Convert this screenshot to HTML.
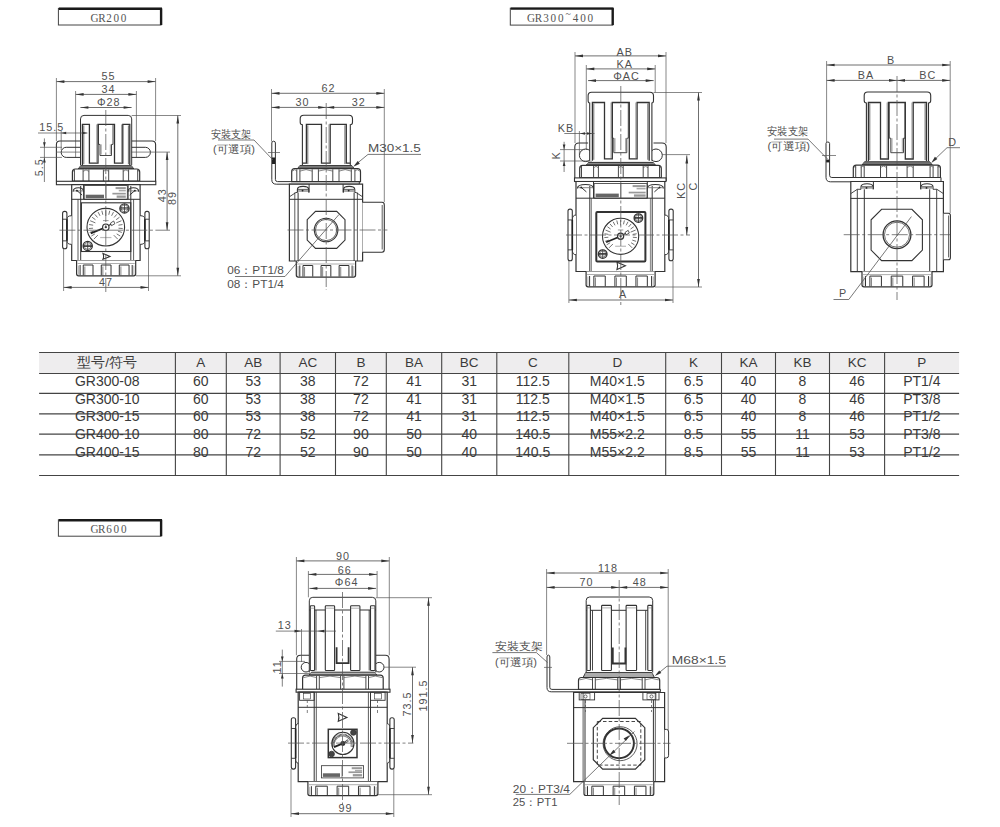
<!DOCTYPE html>
<html><head><meta charset="utf-8"><title>GR regulator drawing</title>
<style>html,body{margin:0;padding:0;background:#fff;overflow:hidden;}svg{display:block;}</style></head>
<body><svg width="1000" height="827" viewBox="0 0 1000 827">
<rect width="1000" height="827" fill="#fff"/>
<rect x="58.4" y="8.4" width="102.6" height="16.6" fill="#fff" stroke="#444" stroke-width="1.0"/>
<line x1="58.9" y1="8.8" x2="162" y2="8.8" stroke="#1a1a1a" stroke-width="2.4"/>
<line x1="161.1" y1="8.4" x2="161.1" y2="25" stroke="#1a1a1a" stroke-width="2.4"/>
<text x="0" y="0" font-size="13" text-anchor="middle" font-family='"Liberation Serif", serif' fill="#555" transform="translate(94.62 21.6) scale(0.86 1)">G</text>
<text x="0" y="0" font-size="13" text-anchor="middle" font-family='"Liberation Serif", serif' fill="#555" transform="translate(101.86 21.6) scale(0.86 1)">R</text>
<text x="0" y="0" font-size="13" text-anchor="middle" font-family='"Liberation Serif", serif' fill="#555" transform="translate(109.1 21.6) scale(0.86 1)">2</text>
<text x="0" y="0" font-size="13" text-anchor="middle" font-family='"Liberation Serif", serif' fill="#555" transform="translate(116.34 21.6) scale(0.86 1)">0</text>
<text x="0" y="0" font-size="13" text-anchor="middle" font-family='"Liberation Serif", serif' fill="#555" transform="translate(123.58 21.6) scale(0.86 1)">0</text>
<rect x="510.3" y="8.2" width="102.3" height="16.9" fill="#fff" stroke="#444" stroke-width="1.0"/>
<line x1="510.8" y1="8.6" x2="613.6" y2="8.6" stroke="#1a1a1a" stroke-width="2.4"/>
<line x1="612.7" y1="8.2" x2="612.7" y2="25.1" stroke="#1a1a1a" stroke-width="2.4"/>
<text x="0" y="0" font-size="13" text-anchor="middle" font-family='"Liberation Serif", serif' fill="#555" transform="translate(531.11 21.7) scale(0.86 1)">G</text>
<text x="0" y="0" font-size="13" text-anchor="middle" font-family='"Liberation Serif", serif' fill="#555" transform="translate(538.52 21.7) scale(0.86 1)">R</text>
<text x="0" y="0" font-size="13" text-anchor="middle" font-family='"Liberation Serif", serif' fill="#555" transform="translate(545.93 21.7) scale(0.86 1)">3</text>
<text x="0" y="0" font-size="13" text-anchor="middle" font-family='"Liberation Serif", serif' fill="#555" transform="translate(553.34 21.7) scale(0.86 1)">0</text>
<text x="0" y="0" font-size="13" text-anchor="middle" font-family='"Liberation Serif", serif' fill="#555" transform="translate(560.75 21.7) scale(0.86 1)">0</text>
<text x="0" y="0" font-size="11" text-anchor="middle" font-family='"Liberation Serif", serif' fill="#555" transform="translate(568.16 16.6) scale(0.9 1)">~</text>
<text x="0" y="0" font-size="13" text-anchor="middle" font-family='"Liberation Serif", serif' fill="#555" transform="translate(575.57 21.7) scale(0.86 1)">4</text>
<text x="0" y="0" font-size="13" text-anchor="middle" font-family='"Liberation Serif", serif' fill="#555" transform="translate(582.98 21.7) scale(0.86 1)">0</text>
<text x="0" y="0" font-size="13" text-anchor="middle" font-family='"Liberation Serif", serif' fill="#555" transform="translate(590.39 21.7) scale(0.86 1)">0</text>
<rect x="58.4" y="519.8" width="102.6" height="16.4" fill="#fff" stroke="#444" stroke-width="1.0"/>
<line x1="58.9" y1="520.2" x2="162" y2="520.2" stroke="#1a1a1a" stroke-width="2.4"/>
<line x1="161.1" y1="519.8" x2="161.1" y2="536.2" stroke="#1a1a1a" stroke-width="2.4"/>
<text x="0" y="0" font-size="13" text-anchor="middle" font-family='"Liberation Serif", serif' fill="#555" transform="translate(94.46 532.8) scale(0.86 1)">G</text>
<text x="0" y="0" font-size="13" text-anchor="middle" font-family='"Liberation Serif", serif' fill="#555" transform="translate(101.78 532.8) scale(0.86 1)">R</text>
<text x="0" y="0" font-size="13" text-anchor="middle" font-family='"Liberation Serif", serif' fill="#555" transform="translate(109.1 532.8) scale(0.86 1)">6</text>
<text x="0" y="0" font-size="13" text-anchor="middle" font-family='"Liberation Serif", serif' fill="#555" transform="translate(116.42 532.8) scale(0.86 1)">0</text>
<text x="0" y="0" font-size="13" text-anchor="middle" font-family='"Liberation Serif", serif' fill="#555" transform="translate(123.74 532.8) scale(0.86 1)">0</text>
<line x1="56.4" y1="81.6" x2="155.6" y2="81.6" stroke="#4a4a4a" stroke-width="0.8"/>
<polygon points="56.4,81.6 64.4,80.25 64.4,82.95" fill="#333"/>
<polygon points="155.6,81.6 147.6,80.25 147.6,82.95" fill="#333"/>
<text x="108.4" y="80.3" font-size="10.8" text-anchor="middle" font-family='"Liberation Sans", sans-serif' fill="#505050" letter-spacing="1">55</text>
<line x1="75.6" y1="94.4" x2="136.4" y2="94.4" stroke="#4a4a4a" stroke-width="0.8"/>
<polygon points="75.6,94.4 83.6,93.05 83.6,95.75" fill="#333"/>
<polygon points="136.4,94.4 128.4,93.05 128.4,95.75" fill="#333"/>
<text x="108.4" y="93" font-size="10.8" text-anchor="middle" font-family='"Liberation Sans", sans-serif' fill="#505050" letter-spacing="1">34</text>
<line x1="80.4" y1="107.5" x2="131.6" y2="107.5" stroke="#4a4a4a" stroke-width="0.8"/>
<polygon points="80.4,107.5 88.4,106.15 88.4,108.85" fill="#333"/>
<polygon points="131.6,107.5 123.6,106.15 123.6,108.85" fill="#333"/>
<text x="108.8" y="106" font-size="10.8" text-anchor="middle" font-family='"Liberation Sans", sans-serif' fill="#505050" letter-spacing="1">Φ28</text>
<line x1="56.4" y1="78" x2="56.4" y2="141" stroke="#555" stroke-width="0.7"/>
<line x1="155.6" y1="78" x2="155.6" y2="141" stroke="#555" stroke-width="0.7"/>
<line x1="75.6" y1="91" x2="75.6" y2="157.5" stroke="#555" stroke-width="0.7"/>
<line x1="136.4" y1="91" x2="136.4" y2="157.5" stroke="#555" stroke-width="0.7"/>
<path d="M56.4,181.3 L56.4,144.5 Q56.4,141 60,141 L152,141 Q155.6,141 155.6,144.5 L155.6,181.3" fill="none" stroke="#333" stroke-width="1.1"/>
<rect x="61.2" y="147.3" width="26.2" height="10.1" rx="5" fill="none" stroke="#333" stroke-width="1.0"/>
<rect x="124.2" y="147.3" width="26.2" height="10.1" rx="5" fill="none" stroke="#333" stroke-width="1.0"/>
<line x1="56" y1="152.1" x2="80" y2="152.1" stroke="#555" stroke-width="0.7"/>
<line x1="131" y1="152.1" x2="170" y2="152.1" stroke="#555" stroke-width="0.7"/>
<path d="M80.5,165.2 L80.5,118.9 Q80.5,115.4 84,115.4 L128.2,115.4 Q131.7,115.4 131.7,118.9 L131.7,165.2" fill="#fff" stroke="#333" stroke-width="1.0"/>
<path d="M82.4,165.2 L82.4,124.4 L89.4,124.4 L89.4,163.2 L98,163.2 L98,124.4 L114.5,124.4 L114.5,163.2 L122.8,163.2 L122.8,124.4 L129.8,124.4 L129.8,165.2" fill="none" stroke="#333" stroke-width="1.3"/>
<line x1="83.8" y1="125.4" x2="83.8" y2="164.2" stroke="#333" stroke-width="0.7"/>
<line x1="128.4" y1="125.4" x2="128.4" y2="164.2" stroke="#333" stroke-width="0.7"/>
<line x1="96.7" y1="124.4" x2="96.7" y2="162.7" stroke="#666" stroke-width="0.6"/>
<line x1="121.5" y1="124.4" x2="121.5" y2="162.7" stroke="#666" stroke-width="0.6"/>
<path d="M98.5,124.4 L98.5,144.4 L100,144.4 L100,155.5 L111.5,155.5 L111.5,144.4 L113,144.4 L113,124.4" fill="none" stroke="#333" stroke-width="0.9"/>
<line x1="101.2" y1="144.4" x2="101.2" y2="154.5" stroke="#666" stroke-width="0.6"/>
<line x1="110.3" y1="144.4" x2="110.3" y2="154.5" stroke="#666" stroke-width="0.6"/>
<line x1="131.7" y1="115.5" x2="181" y2="115.5" stroke="#555" stroke-width="0.7"/>
<path d="M80.7,165.7 L131.4,165.7 L133.9,169 L78.2,169 Z" fill="#555" stroke="#333" stroke-width="1.0"/>
<line x1="79.2" y1="166.9" x2="132.9" y2="166.9" stroke="#bbb" stroke-width="0.6"/>
<path d="M72.4,181.1 L72.4,172 Q72.4,169 75.4,169 L136.7,169 Q139.7,169 139.7,172 L139.7,181.1 Z" fill="#fff" stroke="#333" stroke-width="1.2"/>
<line x1="74.4" y1="169.6" x2="74.4" y2="181.1" stroke="#333" stroke-width="0.9"/>
<line x1="83.1" y1="169.6" x2="83.1" y2="181.1" stroke="#333" stroke-width="0.9"/>
<line x1="88.9" y1="169.6" x2="88.9" y2="181.1" stroke="#333" stroke-width="0.9"/>
<line x1="103.4" y1="169.6" x2="103.4" y2="181.1" stroke="#333" stroke-width="0.9"/>
<line x1="108.7" y1="169.6" x2="108.7" y2="181.1" stroke="#333" stroke-width="0.9"/>
<line x1="123.2" y1="169.6" x2="123.2" y2="181.1" stroke="#333" stroke-width="0.9"/>
<line x1="128.6" y1="169.6" x2="128.6" y2="181.1" stroke="#333" stroke-width="0.9"/>
<line x1="137.7" y1="169.6" x2="137.7" y2="181.1" stroke="#333" stroke-width="0.9"/>
<path d="M73.4,171.4 Q73.9,168.4 74.4,171.4 M83.1,171.4 Q86,168.4 88.9,171.4 M103.4,171.4 Q106.05,168.4 108.7,171.4 M123.2,171.4 Q125.9,168.4 128.6,171.4 M137.7,171.4 Q138.2,168.4 138.7,171.4 " fill="none" stroke="#555" stroke-width="0.7"/>
<rect x="56.4" y="181.3" width="99.4" height="3.4" fill="#fff" stroke="#333" stroke-width="1.1"/>
<path d="M71.7,260.5 L71.7,184.7 L140.1,184.7 L140.1,260.5 Z" fill="#fff" stroke="#333" stroke-width="1.2"/>
<line x1="71.7" y1="199.3" x2="140.1" y2="199.3" stroke="#333" stroke-width="1.0"/>
<line x1="78" y1="199.3" x2="78" y2="260.5" stroke="#333" stroke-width="0.8"/>
<line x1="80.7" y1="186" x2="80.7" y2="260.5" stroke="#333" stroke-width="1.0"/>
<line x1="133.6" y1="199.3" x2="133.6" y2="260.5" stroke="#333" stroke-width="0.8"/>
<line x1="130.8" y1="186" x2="130.8" y2="260.5" stroke="#333" stroke-width="1.0"/>
<rect x="84.2" y="185.6" width="43.1" height="13.7" fill="none" stroke="#333" stroke-width="0.8"/>
<line x1="106" y1="185.6" x2="106" y2="199.3" stroke="#333" stroke-width="0.6"/>
<rect x="85.7" y="194.7" width="18.3" height="3.6" fill="#666"/>
<rect x="115.58" y="187.1" width="10.22" height="2" fill="#999"/>
<rect x="118.78" y="189.8" width="7.02" height="1.6" fill="#aaa"/>
<rect x="112.39" y="192.8" width="13.41" height="1.7" fill="#999"/>
<rect x="116.65" y="195.5" width="9.15" height="2.3" fill="#999"/>
<line x1="83.6" y1="184.7" x2="83.6" y2="199.3" stroke="#333" stroke-width="1.0"/>
<path d="M73.1,191.7 Q73.1,187.7 78.35,187.7 Q83.6,187.7 83.6,191.7" fill="none" stroke="#333" stroke-width="1.1"/>
<line x1="73.6" y1="190.9" x2="83.1" y2="190.9" stroke="#777" stroke-width="0.9"/>
<line x1="76.9" y1="190.5" x2="82.1" y2="195.1" stroke="#333" stroke-width="1.0"/>
<circle cx="76.9" cy="190.7" r="0.9" fill="#222"/>
<line x1="128.1" y1="184.7" x2="128.1" y2="199.3" stroke="#333" stroke-width="1.0"/>
<path d="M128.1,191.7 Q128.1,187.7 133.4,187.7 Q138.7,187.7 138.7,191.7" fill="none" stroke="#333" stroke-width="1.1"/>
<line x1="128.6" y1="190.9" x2="138.2" y2="190.9" stroke="#777" stroke-width="0.9"/>
<line x1="134.9" y1="190.5" x2="129.7" y2="195.1" stroke="#333" stroke-width="1.0"/>
<circle cx="134.9" cy="190.7" r="0.9" fill="#222"/>
<rect x="81.4" y="202.8" width="49.4" height="48.7" fill="none" stroke="#333" stroke-width="1.1"/>
<circle cx="105.8" cy="227.2" r="18.8" fill="#fff" stroke="#333" stroke-width="1.1"/>
<path d="M97.82,235.18 L93.84,239.16 M94.9,233.88 L91.37,236.04 M93.64,231.15 L89.71,232.43 M93.06,228.2 L88.93,228.53 M93.17,225.2 L89.09,224.55 M95.38,222.88 L90.17,220.72 M95.46,219.69 L92.11,217.25 M97.5,217.48 L94.81,214.33 M100,215.81 L98.12,212.12 M102.82,214.77 L101.85,210.75 M105.8,215.92 L105.8,210.28 M108.78,214.77 L109.75,210.75 M111.6,215.81 L113.48,212.12 M114.1,217.48 L116.79,214.33 M116.14,219.69 L119.49,217.25 M116.22,222.88 L121.43,220.72 M118.43,225.2 L122.51,224.55 M118.54,228.2 L122.67,228.53 M117.96,231.15 L121.89,232.43 M116.7,233.88 L120.23,236.04 M113.78,235.18 L117.76,239.16 " fill="none" stroke="#444" stroke-width="0.75"/>
<line x1="100.16" y1="237.54" x2="111.44" y2="237.54" stroke="#bbb" stroke-width="1.2"/>
<line x1="102.98" y1="220.62" x2="108.62" y2="220.62" stroke="#999" stroke-width="1.0"/>
<line x1="90.76" y1="233.4" x2="105.8" y2="227.2" stroke="#222" stroke-width="1.7"/>
<line x1="105.8" y1="227.2" x2="112.94" y2="223.06" stroke="#333" stroke-width="1.1"/>
<path d="M110.5,223.06 L113.7,221 L114.82,223.82 L111.44,225.7 Z" fill="#fff" stroke="#333" stroke-width="0.8"/>
<circle cx="105.8" cy="227.2" r="3.2" fill="#fff" stroke="#333" stroke-width="1.2"/>
<circle cx="105.8" cy="227.2" r="1.13" fill="#333"/>
<circle cx="124.5" cy="208.4" r="4.6" fill="#fff" stroke="#333" stroke-width="1.3"/>
<circle cx="124.5" cy="208.4" r="3.4" fill="none" stroke="#333" stroke-width="0.6"/>
<line x1="119.9" y1="207.8" x2="129.1" y2="207.8" stroke="#333" stroke-width="0.9"/>
<line x1="119.9" y1="209" x2="129.1" y2="209" stroke="#333" stroke-width="0.9"/>
<line x1="124.5" y1="203.8" x2="124.5" y2="213" stroke="#333" stroke-width="0.8"/>
<circle cx="87.7" cy="245.9" r="4.6" fill="#fff" stroke="#333" stroke-width="1.3"/>
<circle cx="87.7" cy="245.9" r="3.4" fill="none" stroke="#333" stroke-width="0.6"/>
<line x1="83.1" y1="245.3" x2="92.3" y2="245.3" stroke="#333" stroke-width="0.9"/>
<line x1="83.1" y1="246.5" x2="92.3" y2="246.5" stroke="#333" stroke-width="0.9"/>
<line x1="87.7" y1="241.3" x2="87.7" y2="250.5" stroke="#333" stroke-width="0.8"/>
<path d="M103,253.5 L110,256.4 L103,259.3 Q104.2,256.4 103,253.5 Z" fill="none" stroke="#333" stroke-width="1.1"/>
<path d="M76.6,260.5 L76.6,273.8 Q76.6,275.8 78.6,275.8 L133.7,275.8 Q135.7,275.8 135.7,273.8 L135.7,260.5" fill="#fff" stroke="#333" stroke-width="1.2"/>
<line x1="77.6" y1="263.5" x2="134.7" y2="263.5" stroke="#777" stroke-width="0.6"/>
<path d="M83.25,275.3 L83.25,265 L93,265 L93,275.3" fill="none" stroke="#333" stroke-width="1.0"/>
<line x1="84.85" y1="266.5" x2="84.85" y2="275.3" stroke="#333" stroke-width="0.6"/>
<path d="M101.27,275.3 L101.27,265 L111.03,265 L111.03,275.3" fill="none" stroke="#333" stroke-width="1.0"/>
<line x1="102.87" y1="266.5" x2="102.87" y2="275.3" stroke="#333" stroke-width="0.6"/>
<path d="M119.3,275.3 L119.3,265 L129.05,265 L129.05,275.3" fill="none" stroke="#333" stroke-width="1.0"/>
<line x1="120.9" y1="266.5" x2="120.9" y2="275.3" stroke="#333" stroke-width="0.6"/>
<line x1="80.1" y1="265" x2="80.1" y2="275.3" stroke="#333" stroke-width="1.0"/>
<line x1="132.2" y1="265" x2="132.2" y2="275.3" stroke="#333" stroke-width="1.0"/>
<line x1="78.4" y1="265.5" x2="78.4" y2="274.8" stroke="#666" stroke-width="0.5"/>
<line x1="133.9" y1="265.5" x2="133.9" y2="274.8" stroke="#666" stroke-width="0.5"/>
<path d="M71.7,215.71 Q66.9,215.71 66.9,219.23 L66.9,240.87 Q66.9,244.39 71.7,244.39" fill="#fff" stroke="#333" stroke-width="1.0"/>
<rect x="62.6" y="211.4" width="4.3" height="37.3" rx="2" fill="#fff" stroke="#333" stroke-width="1.1"/>
<line x1="62.6" y1="219.23" x2="66.9" y2="219.23" stroke="#333" stroke-width="0.9"/>
<line x1="62.6" y1="240.87" x2="66.9" y2="240.87" stroke="#333" stroke-width="0.9"/>
<line x1="66.9" y1="219.23" x2="66.9" y2="240.87" stroke="#222" stroke-width="1.6"/>
<path d="M140.1,215.71 Q144.9,215.71 144.9,219.23 L144.9,240.87 Q144.9,244.39 140.1,244.39" fill="#fff" stroke="#333" stroke-width="1.0"/>
<rect x="144.9" y="211.4" width="4.3" height="37.3" rx="2" fill="#fff" stroke="#333" stroke-width="1.1"/>
<line x1="144.9" y1="219.23" x2="149.2" y2="219.23" stroke="#333" stroke-width="0.9"/>
<line x1="144.9" y1="240.87" x2="149.2" y2="240.87" stroke="#333" stroke-width="0.9"/>
<line x1="144.9" y1="219.23" x2="144.9" y2="240.87" stroke="#222" stroke-width="1.6"/>
<line x1="63.6" y1="287.4" x2="148.5" y2="287.4" stroke="#4a4a4a" stroke-width="0.8"/>
<polygon points="63.6,287.4 71.6,286.05 71.6,288.75" fill="#333"/>
<polygon points="148.5,287.4 140.5,286.05 140.5,288.75" fill="#333"/>
<text x="106" y="286" font-size="10.8" text-anchor="middle" font-family='"Liberation Sans", sans-serif' fill="#505050" letter-spacing="1">47</text>
<line x1="63.6" y1="249" x2="63.6" y2="291" stroke="#555" stroke-width="0.7"/>
<line x1="148.5" y1="249" x2="148.5" y2="291" stroke="#555" stroke-width="0.7"/>
<line x1="167.1" y1="152.1" x2="167.1" y2="230.2" stroke="#4a4a4a" stroke-width="0.8"/>
<polygon points="167.1,152.1 165.75,160.1 168.45,160.1" fill="#333"/>
<polygon points="167.1,230.2 165.75,222.2 168.45,222.2" fill="#333"/>
<text x="165.6" y="195.2" font-size="10.8" text-anchor="middle" font-family='"Liberation Sans", sans-serif' fill="#505050" letter-spacing="1" transform="rotate(-90 165.6 195.2)">43</text>
<line x1="177.8" y1="115.5" x2="177.8" y2="275.8" stroke="#4a4a4a" stroke-width="0.8"/>
<polygon points="177.8,115.5 176.45,123.5 179.15,123.5" fill="#333"/>
<polygon points="177.8,275.8 176.45,267.8 179.15,267.8" fill="#333"/>
<text x="176.3" y="198" font-size="10.8" text-anchor="middle" font-family='"Liberation Sans", sans-serif' fill="#505050" letter-spacing="1" transform="rotate(-90 176.3 198)">89</text>
<line x1="136" y1="275.8" x2="181" y2="275.8" stroke="#555" stroke-width="0.7"/>
<line x1="38" y1="133" x2="87.4" y2="133" stroke="#4a4a4a" stroke-width="0.7"/>
<polygon points="61.2,133 66.2,131.65 66.2,134.35" fill="#333"/>
<polygon points="87.4,133 82.4,131.65 82.4,134.35" fill="#333"/>
<line x1="61.2" y1="131" x2="61.2" y2="150" stroke="#555" stroke-width="0.7"/>
<text x="51.8" y="131" font-size="10.8" text-anchor="middle" font-family='"Liberation Sans", sans-serif' fill="#505050" letter-spacing="1">15.5</text>
<line x1="44.4" y1="138.4" x2="44.4" y2="182" stroke="#4a4a4a" stroke-width="0.7"/>
<polygon points="44.4,147.3 43.05,142.3 45.75,142.3" fill="#333"/>
<polygon points="44.4,157.4 43.05,162.4 45.75,162.4" fill="#333"/>
<line x1="40" y1="147.3" x2="62" y2="147.3" stroke="#555" stroke-width="0.7"/>
<line x1="40" y1="157.4" x2="62" y2="157.4" stroke="#555" stroke-width="0.7"/>
<text x="42.8" y="167.2" font-size="10.8" text-anchor="middle" font-family='"Liberation Sans", sans-serif' fill="#505050" letter-spacing="1" transform="rotate(-90 42.8 167.2)">5.5</text>
<line x1="271.5" y1="93.3" x2="384.3" y2="93.3" stroke="#4a4a4a" stroke-width="0.8"/>
<polygon points="271.5,93.3 279.5,91.95 279.5,94.65" fill="#333"/>
<polygon points="384.3,93.3 376.3,91.95 376.3,94.65" fill="#333"/>
<text x="328.5" y="91.8" font-size="10.8" text-anchor="middle" font-family='"Liberation Sans", sans-serif' fill="#505050" letter-spacing="1">62</text>
<line x1="271.5" y1="89" x2="271.5" y2="141.5" stroke="#555" stroke-width="0.7"/>
<line x1="384.3" y1="89" x2="384.3" y2="202" stroke="#555" stroke-width="0.7"/>
<line x1="271.5" y1="107.4" x2="326.2" y2="107.4" stroke="#4a4a4a" stroke-width="0.8"/>
<polygon points="271.5,107.4 279.5,106.05 279.5,108.75" fill="#333"/>
<polygon points="326.2,107.4 318.2,106.05 318.2,108.75" fill="#333"/>
<line x1="326.2" y1="107.4" x2="384.3" y2="107.4" stroke="#4a4a4a" stroke-width="0.8"/>
<polygon points="326.2,107.4 334.2,106.05 334.2,108.75" fill="#333"/>
<polygon points="384.3,107.4 376.3,106.05 376.3,108.75" fill="#333"/>
<text x="302.5" y="105.5" font-size="10.8" text-anchor="middle" font-family='"Liberation Sans", sans-serif' fill="#505050" letter-spacing="1">30</text>
<text x="358.8" y="105.5" font-size="10.8" text-anchor="middle" font-family='"Liberation Sans", sans-serif' fill="#505050" letter-spacing="1">32</text>
<path d="M302.4,165.1 L302.4,124.8 Q300.2,124.8 300.2,122.3 L300.2,118.8 Q300.2,115.3 303.7,115.3 L349,115.3 Q352.5,115.3 352.5,118.8 L352.5,122.3 Q352.5,124.8 350.3,124.8 L350.3,165.1" fill="#fff" stroke="#333" stroke-width="1.1"/>
<path d="M302.4,163.1 L306.4,163.1 L306.4,124.3 L321.5,124.3 L321.5,163.1 L330.2,163.1 L330.2,124.3 L346.3,124.3 L346.3,163.1 L350.3,163.1" fill="none" stroke="#333" stroke-width="1.3"/>
<line x1="307.8" y1="125.3" x2="307.8" y2="164.1" stroke="#333" stroke-width="0.7"/>
<line x1="344.9" y1="125.3" x2="344.9" y2="164.1" stroke="#333" stroke-width="0.7"/>
<line x1="328.9" y1="124.3" x2="328.9" y2="162.6" stroke="#666" stroke-width="0.6"/>
<path d="M271.8,143 Q271.8,141.2 273.6,141.2 Q275.4,141.2 275.4,143 L275.4,179.5 Q275.4,181.6 277.5,181.6 L359.3,181.6 L359.3,184.2 L276.3,184.2 Q271.8,184.2 271.8,179.7 Z" fill="#fff" stroke="#333" stroke-width="1.0"/>
<rect x="272" y="157.5" width="3.2" height="6.5" fill="#222"/>
<line x1="268" y1="152.5" x2="280" y2="152.5" stroke="#555" stroke-width="0.7"/>
<path d="M299.9,165.6 L351.8,165.6 L354.3,168.7 L297.4,168.7 Z" fill="#555" stroke="#333" stroke-width="1.0"/>
<line x1="298.4" y1="166.8" x2="353.3" y2="166.8" stroke="#bbb" stroke-width="0.6"/>
<path d="M291.7,181.6 L291.7,171.7 Q291.7,168.7 294.7,168.7 L357.5,168.7 Q360.5,168.7 360.5,171.7 L360.5,181.6 Z" fill="#fff" stroke="#333" stroke-width="1.2"/>
<line x1="296.8" y1="169.3" x2="296.8" y2="181.6" stroke="#333" stroke-width="0.9"/>
<line x1="299.9" y1="169.3" x2="299.9" y2="181.6" stroke="#333" stroke-width="0.9"/>
<line x1="312.2" y1="169.3" x2="312.2" y2="181.6" stroke="#333" stroke-width="0.9"/>
<line x1="318.4" y1="169.3" x2="318.4" y2="181.6" stroke="#333" stroke-width="0.9"/>
<line x1="332.8" y1="169.3" x2="332.8" y2="181.6" stroke="#333" stroke-width="0.9"/>
<line x1="339" y1="169.3" x2="339" y2="181.6" stroke="#333" stroke-width="0.9"/>
<line x1="351.3" y1="169.3" x2="351.3" y2="181.6" stroke="#333" stroke-width="0.9"/>
<line x1="354.9" y1="169.3" x2="354.9" y2="181.6" stroke="#333" stroke-width="0.9"/>
<path d="M292.7,171.1 Q294.75,168.1 296.8,171.1 M299.9,171.1 Q306.05,168.1 312.2,171.1 M318.4,171.1 Q325.6,168.1 332.8,171.1 M339,171.1 Q345.15,168.1 351.3,171.1 M354.9,171.1 Q357.2,168.1 359.5,171.1 " fill="none" stroke="#555" stroke-width="0.7"/>
<path d="M289.4,261 L289.4,184.2 L362.6,184.2 L362.6,261 Z" fill="#fff" stroke="#333" stroke-width="1.2"/>
<line x1="289.4" y1="196.8" x2="295.9" y2="192.5" stroke="#333" stroke-width="0.9"/>
<line x1="295.9" y1="192.5" x2="297.4" y2="192.5" stroke="#333" stroke-width="0.9"/>
<path d="M297.4,192.5 L297.4,189.4 Q297.4,186.4 303.05,186.4 Q308.7,186.4 308.7,189.4 L308.7,192.5" fill="#fff" stroke="#333" stroke-width="1.1"/>
<rect x="298" y="189.6" width="10.1" height="2.4" fill="#aaa"/>
<line x1="297.9" y1="189.4" x2="308.2" y2="189.4" stroke="#444" stroke-width="0.8"/>
<circle cx="302.55" cy="190.6" r="0.9" fill="#222"/>
<line x1="309.1" y1="184.2" x2="309.1" y2="192.5" stroke="#333" stroke-width="1.0"/>
<line x1="362.6" y1="196.8" x2="356.1" y2="192.5" stroke="#333" stroke-width="0.9"/>
<line x1="356.1" y1="192.5" x2="354.8" y2="192.5" stroke="#333" stroke-width="0.9"/>
<path d="M343.5,192.5 L343.5,189.4 Q343.5,186.4 349.15,186.4 Q354.8,186.4 354.8,189.4 L354.8,192.5" fill="#fff" stroke="#333" stroke-width="1.1"/>
<rect x="344.1" y="189.6" width="10.1" height="2.4" fill="#aaa"/>
<line x1="344" y1="189.4" x2="354.3" y2="189.4" stroke="#444" stroke-width="0.8"/>
<circle cx="348.65" cy="190.6" r="0.9" fill="#222"/>
<line x1="343.1" y1="184.2" x2="343.1" y2="192.5" stroke="#333" stroke-width="1.0"/>
<line x1="289.4" y1="199.3" x2="362.4" y2="199.3" stroke="#333" stroke-width="1.0"/>
<line x1="294.8" y1="192.5" x2="294.8" y2="261" stroke="#333" stroke-width="0.8"/>
<line x1="298.1" y1="192.5" x2="298.1" y2="261" stroke="#333" stroke-width="1.0"/>
<line x1="354.1" y1="192.5" x2="354.1" y2="261" stroke="#333" stroke-width="1.0"/>
<line x1="357.4" y1="192.5" x2="357.4" y2="261" stroke="#333" stroke-width="0.8"/>
<path d="M362.4,202.3 L382,202.3 Q384.3,202.3 384.3,205 L384.3,249.5 Q384.3,252.2 382,252.2 L362.4,252.2" fill="#fff" stroke="#333" stroke-width="1.1"/>
<line x1="382.2" y1="205" x2="382.2" y2="249.5" stroke="#333" stroke-width="0.8"/>
<path d="M315.5,211.4 L336.7,211.4 L345,219.7 L345,240.1 L336.7,248.4 L315.5,248.4 L307.2,240.1 L307.2,219.7 Z" fill="none" stroke="#333" stroke-width="1.1"/>
<circle cx="326.1" cy="230" r="11.8" fill="none" stroke="#333" stroke-width="1.1"/>
<circle cx="326.1" cy="230" r="10.6" fill="none" stroke="#333" stroke-width="0.8"/>
<path d="M296.3,261 L296.3,275.1 Q296.3,277.1 298.3,277.1 L353.6,277.1 Q355.6,277.1 355.6,275.1 L355.6,261" fill="#fff" stroke="#333" stroke-width="1.2"/>
<line x1="297.3" y1="264" x2="354.6" y2="264" stroke="#777" stroke-width="0.6"/>
<path d="M302.97,276.6 L302.97,265.5 L312.76,265.5 L312.76,276.6" fill="none" stroke="#333" stroke-width="1.0"/>
<line x1="304.57" y1="267" x2="304.57" y2="276.6" stroke="#333" stroke-width="0.6"/>
<path d="M321.06,276.6 L321.06,265.5 L330.84,265.5 L330.84,276.6" fill="none" stroke="#333" stroke-width="1.0"/>
<line x1="322.66" y1="267" x2="322.66" y2="276.6" stroke="#333" stroke-width="0.6"/>
<path d="M339.14,276.6 L339.14,265.5 L348.93,265.5 L348.93,276.6" fill="none" stroke="#333" stroke-width="1.0"/>
<line x1="340.74" y1="267" x2="340.74" y2="276.6" stroke="#333" stroke-width="0.6"/>
<line x1="299.8" y1="265.5" x2="299.8" y2="276.6" stroke="#333" stroke-width="1.0"/>
<line x1="352.1" y1="265.5" x2="352.1" y2="276.6" stroke="#333" stroke-width="1.0"/>
<line x1="298.1" y1="266" x2="298.1" y2="276.1" stroke="#666" stroke-width="0.5"/>
<line x1="353.8" y1="266" x2="353.8" y2="276.1" stroke="#666" stroke-width="0.5"/>
<text x="211" y="138" font-size="10.5" text-anchor="start" font-family='"Liberation Sans", sans-serif' fill="#505050" textLength="40.5" lengthAdjust="spacingAndGlyphs">安裝支架</text>
<text x="213" y="153" font-size="10.5" text-anchor="start" font-family='"Liberation Sans", sans-serif' fill="#505050" textLength="42" lengthAdjust="spacingAndGlyphs">(可選項)</text>
<line x1="218" y1="140" x2="254" y2="140" stroke="#555" stroke-width="0.8"/>
<line x1="254" y1="140" x2="273" y2="160" stroke="#555" stroke-width="0.8"/>
<text x="368" y="152.2" font-size="10.8" text-anchor="start" font-family='"Liberation Sans", sans-serif' fill="#505050" textLength="52.8" lengthAdjust="spacingAndGlyphs">M30×1.5</text>
<line x1="368" y1="154.4" x2="421" y2="154.4" stroke="#555" stroke-width="0.8"/>
<line x1="368" y1="154.4" x2="356" y2="164.3" stroke="#555" stroke-width="0.8"/>
<polygon points="353.3,166.7 357.7,161 359.83,163.65" fill="#333"/>
<text x="227.2" y="274.2" font-size="10.8" text-anchor="start" font-family='"Liberation Sans", sans-serif' fill="#505050" textLength="56.7" lengthAdjust="spacingAndGlyphs">06：PT1/8</text>
<text x="227.2" y="287.6" font-size="10.8" text-anchor="start" font-family='"Liberation Sans", sans-serif' fill="#505050" textLength="56.7" lengthAdjust="spacingAndGlyphs">08：PT1/4</text>
<line x1="235" y1="276.5" x2="285" y2="276.5" stroke="#555" stroke-width="0.8"/>
<line x1="285" y1="276.5" x2="339" y2="214.5" stroke="#555" stroke-width="0.8"/>
<line x1="575" y1="55.9" x2="666" y2="55.9" stroke="#4a4a4a" stroke-width="0.8"/>
<polygon points="575,55.9 583,54.55 583,57.25" fill="#333"/>
<polygon points="666,55.9 658,54.55 658,57.25" fill="#333"/>
<text x="624.8" y="55.5" font-size="10.8" text-anchor="middle" font-family='"Liberation Sans", sans-serif' fill="#505050" letter-spacing="1">AB</text>
<line x1="586.3" y1="68.9" x2="655.2" y2="68.9" stroke="#4a4a4a" stroke-width="0.8"/>
<polygon points="586.3,68.9 594.3,67.55 594.3,70.25" fill="#333"/>
<polygon points="655.2,68.9 647.2,67.55 647.2,70.25" fill="#333"/>
<text x="624.8" y="68" font-size="10.8" text-anchor="middle" font-family='"Liberation Sans", sans-serif' fill="#505050" letter-spacing="1">KA</text>
<line x1="588" y1="80.6" x2="653.7" y2="80.6" stroke="#4a4a4a" stroke-width="0.8"/>
<polygon points="588,80.6 596,79.25 596,81.95" fill="#333"/>
<polygon points="653.7,80.6 645.7,79.25 645.7,81.95" fill="#333"/>
<text x="626.5" y="79.8" font-size="10.8" text-anchor="middle" font-family='"Liberation Sans", sans-serif' fill="#505050" letter-spacing="1">ΦAC</text>
<line x1="575" y1="52" x2="575" y2="143" stroke="#555" stroke-width="0.7"/>
<line x1="666" y1="52" x2="666" y2="143" stroke="#555" stroke-width="0.7"/>
<line x1="586.3" y1="65" x2="586.3" y2="150" stroke="#555" stroke-width="0.7"/>
<line x1="655.2" y1="65" x2="655.2" y2="92.3" stroke="#555" stroke-width="0.7"/>
<path d="M574.8,181 L574.8,147 Q574.8,143 579,143 L588.1,143" fill="none" stroke="#333" stroke-width="1.1"/>
<path d="M666.2,181 L666.2,147 Q666.2,143 662,143 L653.5,143" fill="none" stroke="#333" stroke-width="1.1"/>
<circle cx="585.7" cy="155.3" r="6.3" fill="none" stroke="#333" stroke-width="1.0"/>
<circle cx="656" cy="155.3" r="6.3" fill="none" stroke="#333" stroke-width="1.0"/>
<line x1="560" y1="149.6" x2="585" y2="149.6" stroke="#555" stroke-width="0.7"/>
<line x1="560" y1="161" x2="592" y2="161" stroke="#555" stroke-width="0.7"/>
<path d="M589.7,160.8 L589.7,103 Q588.1,103 588.1,100.5 L588.1,95.8 Q588.1,92.3 591.6,92.3 L650,92.3 Q653.5,92.3 653.5,95.8 L653.5,100.5 Q653.5,103 651.9,103 L651.9,160.8" fill="#fff" stroke="#333" stroke-width="1.1"/>
<path d="M592.4,160.8 L592.4,102.5 L604.5,102.5 L604.5,158.8 L612.3,158.8 L612.3,102.5 L629.3,102.5 L629.3,158.8 L637.1,158.8 L637.1,102.5 L649.2,102.5 L649.2,160.8" fill="none" stroke="#333" stroke-width="1.3"/>
<line x1="593.8" y1="103.5" x2="593.8" y2="159.8" stroke="#333" stroke-width="0.7"/>
<line x1="647.8" y1="103.5" x2="647.8" y2="159.8" stroke="#333" stroke-width="0.7"/>
<line x1="611" y1="102.5" x2="611" y2="158.3" stroke="#666" stroke-width="0.6"/>
<line x1="635.8" y1="102.5" x2="635.8" y2="158.3" stroke="#666" stroke-width="0.6"/>
<path d="M612.3,102.5 L612.3,138.2 L613.8,138.2 L613.8,152.7 L626.8,152.7 L626.8,138.2 L628.3,138.2 L628.3,102.5" fill="none" stroke="#333" stroke-width="0.9"/>
<line x1="615" y1="138.2" x2="615" y2="151.7" stroke="#666" stroke-width="0.6"/>
<line x1="625.6" y1="138.2" x2="625.6" y2="151.7" stroke="#666" stroke-width="0.6"/>
<line x1="653.5" y1="92.5" x2="702" y2="92.5" stroke="#555" stroke-width="0.7"/>
<line x1="662" y1="154.6" x2="690" y2="154.6" stroke="#555" stroke-width="0.7"/>
<path d="M588.5,162.4 L653.2,162.4 L655.7,165.4 L586,165.4 Z" fill="#555" stroke="#333" stroke-width="1.0"/>
<line x1="587" y1="163.6" x2="654.7" y2="163.6" stroke="#bbb" stroke-width="0.6"/>
<path d="M579.7,177.5 L579.7,168.4 Q579.7,165.4 582.7,165.4 L658.3,165.4 Q661.3,165.4 661.3,168.4 L661.3,177.5 Z" fill="#fff" stroke="#333" stroke-width="1.2"/>
<line x1="581.5" y1="166" x2="581.5" y2="177.5" stroke="#333" stroke-width="0.9"/>
<line x1="593.6" y1="166" x2="593.6" y2="177.5" stroke="#333" stroke-width="0.9"/>
<line x1="598.4" y1="166" x2="598.4" y2="177.5" stroke="#333" stroke-width="0.9"/>
<line x1="618.4" y1="166" x2="618.4" y2="177.5" stroke="#333" stroke-width="0.9"/>
<line x1="623.2" y1="166" x2="623.2" y2="177.5" stroke="#333" stroke-width="0.9"/>
<line x1="643.2" y1="166" x2="643.2" y2="177.5" stroke="#333" stroke-width="0.9"/>
<line x1="648" y1="166" x2="648" y2="177.5" stroke="#333" stroke-width="0.9"/>
<line x1="659.5" y1="166" x2="659.5" y2="177.5" stroke="#333" stroke-width="0.9"/>
<path d="M580.7,167.8 Q581.1,164.8 581.5,167.8 M593.6,167.8 Q596,164.8 598.4,167.8 M618.4,167.8 Q620.8,164.8 623.2,167.8 M643.2,167.8 Q645.6,164.8 648,167.8 M659.5,167.8 Q659.9,164.8 660.3,167.8 " fill="none" stroke="#555" stroke-width="0.7"/>
<rect x="574.5" y="177.9" width="91.5" height="3.6" fill="#fff" stroke="#333" stroke-width="1.1"/>
<path d="M576,271.5 L576,181.5 L664.8,181.5 L664.8,271.5 Z" fill="#fff" stroke="#333" stroke-width="1.2"/>
<line x1="576" y1="198.2" x2="664.8" y2="198.2" stroke="#333" stroke-width="1.0"/>
<line x1="589.8" y1="186" x2="589.8" y2="271.5" stroke="#333" stroke-width="1.0"/>
<line x1="591.4" y1="198.2" x2="591.4" y2="271.5" stroke="#333" stroke-width="0.6"/>
<line x1="652.2" y1="186" x2="652.2" y2="271.5" stroke="#333" stroke-width="1.0"/>
<line x1="650.4" y1="198.2" x2="650.4" y2="271.5" stroke="#333" stroke-width="0.6"/>
<rect x="594.1" y="183.6" width="53" height="14.6" fill="none" stroke="#333" stroke-width="0.8"/>
<line x1="620.8" y1="183.6" x2="620.8" y2="198.2" stroke="#333" stroke-width="0.6"/>
<rect x="595.6" y="193.6" width="23.2" height="3.6" fill="#666"/>
<rect x="632.63" y="185.1" width="12.97" height="2" fill="#999"/>
<rect x="636.58" y="187.8" width="9.02" height="1.6" fill="#aaa"/>
<rect x="628.69" y="191.7" width="16.91" height="1.7" fill="#999"/>
<rect x="633.95" y="194.4" width="11.65" height="2.3" fill="#999"/>
<line x1="593.5" y1="181.5" x2="593.5" y2="198.2" stroke="#333" stroke-width="1.0"/>
<path d="M577.4,188.5 Q577.4,184.5 585.45,184.5 Q593.5,184.5 593.5,188.5" fill="none" stroke="#333" stroke-width="1.1"/>
<line x1="577.9" y1="187.7" x2="593" y2="187.7" stroke="#777" stroke-width="0.9"/>
<line x1="581.2" y1="187.3" x2="586.4" y2="191.9" stroke="#333" stroke-width="1.0"/>
<circle cx="581.2" cy="187.5" r="0.9" fill="#222"/>
<line x1="647.3" y1="181.5" x2="647.3" y2="198.2" stroke="#333" stroke-width="1.0"/>
<path d="M647.3,188.5 Q647.3,184.5 655.35,184.5 Q663.4,184.5 663.4,188.5" fill="none" stroke="#333" stroke-width="1.1"/>
<line x1="647.8" y1="187.7" x2="662.9" y2="187.7" stroke="#777" stroke-width="0.9"/>
<line x1="659.6" y1="187.3" x2="654.4" y2="191.9" stroke="#333" stroke-width="1.0"/>
<circle cx="659.6" cy="187.5" r="0.9" fill="#222"/>
<rect x="596.3" y="212" width="49.1" height="49.4" rx="1" fill="none" stroke="#333" stroke-width="2.0"/>
<circle cx="620.6" cy="236.3" r="18.1" fill="#fff" stroke="#333" stroke-width="1.1"/>
<path d="M612.92,243.98 L609.08,247.82 M610.11,242.73 L606.71,244.81 M608.89,240.1 L605.11,241.33 M608.33,237.27 L604.36,237.58 M608.44,234.37 L604.51,233.75 M610.57,232.14 L605.55,230.07 M610.64,229.07 L607.42,226.72 M612.61,226.94 L610.02,223.91 M615.01,225.33 L613.2,221.79 M617.73,224.33 L616.8,220.46 M620.6,225.44 L620.6,220.01 M623.47,224.33 L624.4,220.46 M626.19,225.33 L628,221.79 M628.59,226.94 L631.18,223.91 M630.56,229.07 L633.78,226.72 M630.63,232.14 L635.65,230.07 M632.76,234.37 L636.69,233.75 M632.87,237.27 L636.84,237.58 M632.31,240.1 L636.09,241.33 M631.09,242.73 L634.49,244.81 M628.28,243.98 L632.12,247.82 " fill="none" stroke="#444" stroke-width="0.75"/>
<line x1="615.17" y1="246.26" x2="626.03" y2="246.26" stroke="#bbb" stroke-width="1.2"/>
<line x1="617.88" y1="229.97" x2="623.32" y2="229.97" stroke="#999" stroke-width="1.0"/>
<line x1="606.12" y1="242.27" x2="620.6" y2="236.3" stroke="#222" stroke-width="1.7"/>
<line x1="620.6" y1="236.3" x2="627.48" y2="232.32" stroke="#333" stroke-width="1.1"/>
<path d="M625.12,232.32 L628.2,230.33 L629.29,233.04 L626.03,234.85 Z" fill="#fff" stroke="#333" stroke-width="0.8"/>
<circle cx="620.6" cy="236.3" r="3.08" fill="#fff" stroke="#333" stroke-width="1.2"/>
<circle cx="620.6" cy="236.3" r="1.09" fill="#333"/>
<circle cx="638.4" cy="218.1" r="4.3" fill="#fff" stroke="#333" stroke-width="1.3"/>
<circle cx="638.4" cy="218.1" r="3.1" fill="none" stroke="#333" stroke-width="0.6"/>
<line x1="634.1" y1="217.5" x2="642.7" y2="217.5" stroke="#333" stroke-width="0.9"/>
<line x1="634.1" y1="218.7" x2="642.7" y2="218.7" stroke="#333" stroke-width="0.9"/>
<line x1="638.4" y1="213.8" x2="638.4" y2="222.4" stroke="#333" stroke-width="0.8"/>
<circle cx="602.7" cy="254.1" r="4.3" fill="#fff" stroke="#333" stroke-width="1.3"/>
<circle cx="602.7" cy="254.1" r="3.1" fill="none" stroke="#333" stroke-width="0.6"/>
<line x1="598.4" y1="253.5" x2="607" y2="253.5" stroke="#333" stroke-width="0.9"/>
<line x1="598.4" y1="254.7" x2="607" y2="254.7" stroke="#333" stroke-width="0.9"/>
<line x1="602.7" y1="249.8" x2="602.7" y2="258.4" stroke="#333" stroke-width="0.8"/>
<path d="M617,262.2 L625.4,265.8 L617,269.4 Q618.2,265.8 617,262.2 Z" fill="none" stroke="#333" stroke-width="1.1"/>
<path d="M586.1,271.5 L586.1,284.8 Q586.1,286.8 588.1,286.8 L653.1,286.8 Q655.1,286.8 655.1,284.8 L655.1,271.5" fill="#fff" stroke="#333" stroke-width="1.2"/>
<line x1="587.1" y1="274.5" x2="654.1" y2="274.5" stroke="#777" stroke-width="0.6"/>
<path d="M593.86,286.3 L593.86,276 L605.25,276 L605.25,286.3" fill="none" stroke="#333" stroke-width="1.0"/>
<line x1="595.46" y1="277.5" x2="595.46" y2="286.3" stroke="#333" stroke-width="0.6"/>
<path d="M614.91,286.3 L614.91,276 L626.29,276 L626.29,286.3" fill="none" stroke="#333" stroke-width="1.0"/>
<line x1="616.51" y1="277.5" x2="616.51" y2="286.3" stroke="#333" stroke-width="0.6"/>
<path d="M635.95,286.3 L635.95,276 L647.34,276 L647.34,286.3" fill="none" stroke="#333" stroke-width="1.0"/>
<line x1="637.55" y1="277.5" x2="637.55" y2="286.3" stroke="#333" stroke-width="0.6"/>
<line x1="589.6" y1="276" x2="589.6" y2="286.3" stroke="#333" stroke-width="1.0"/>
<line x1="651.6" y1="276" x2="651.6" y2="286.3" stroke="#333" stroke-width="1.0"/>
<line x1="587.9" y1="276.5" x2="587.9" y2="285.8" stroke="#666" stroke-width="0.5"/>
<line x1="653.3" y1="276.5" x2="653.3" y2="285.8" stroke="#666" stroke-width="0.5"/>
<path d="M576,215.06 Q572.3,215.06 572.3,219.94 L572.3,249.86 Q572.3,254.74 576,254.74" fill="#fff" stroke="#333" stroke-width="1.0"/>
<rect x="568" y="209.1" width="4.3" height="51.6" rx="2" fill="#fff" stroke="#333" stroke-width="1.1"/>
<line x1="568" y1="219.94" x2="572.3" y2="219.94" stroke="#333" stroke-width="0.9"/>
<line x1="568" y1="249.86" x2="572.3" y2="249.86" stroke="#333" stroke-width="0.9"/>
<line x1="572.3" y1="219.94" x2="572.3" y2="249.86" stroke="#222" stroke-width="1.6"/>
<path d="M664.8,215.06 Q668.9,215.06 668.9,219.94 L668.9,249.86 Q668.9,254.74 664.8,254.74" fill="#fff" stroke="#333" stroke-width="1.0"/>
<rect x="668.9" y="209.1" width="4.3" height="51.6" rx="2" fill="#fff" stroke="#333" stroke-width="1.1"/>
<line x1="668.9" y1="219.94" x2="673.2" y2="219.94" stroke="#333" stroke-width="0.9"/>
<line x1="668.9" y1="249.86" x2="673.2" y2="249.86" stroke="#333" stroke-width="0.9"/>
<line x1="668.9" y1="219.94" x2="668.9" y2="249.86" stroke="#222" stroke-width="1.6"/>
<line x1="568.9" y1="300" x2="673" y2="300" stroke="#4a4a4a" stroke-width="0.8"/>
<polygon points="568.9,300 576.9,298.65 576.9,301.35" fill="#333"/>
<polygon points="673,300 665,298.65 665,301.35" fill="#333"/>
<text x="623" y="297.8" font-size="10.8" text-anchor="middle" font-family='"Liberation Sans", sans-serif' fill="#505050" letter-spacing="1">A</text>
<line x1="568.9" y1="261" x2="568.9" y2="303" stroke="#555" stroke-width="0.7"/>
<line x1="673" y1="261" x2="673" y2="303" stroke="#555" stroke-width="0.7"/>
<line x1="686.8" y1="155.4" x2="686.8" y2="235" stroke="#4a4a4a" stroke-width="0.8"/>
<polygon points="686.8,155.4 685.45,163.4 688.15,163.4" fill="#333"/>
<polygon points="686.8,235 685.45,227 688.15,227" fill="#333"/>
<text x="685.3" y="190.4" font-size="10.8" text-anchor="middle" font-family='"Liberation Sans", sans-serif' fill="#505050" letter-spacing="1" transform="rotate(-90 685.3 190.4)">KC</text>
<line x1="698.5" y1="92.5" x2="698.5" y2="287" stroke="#4a4a4a" stroke-width="0.8"/>
<polygon points="698.5,92.5 697.15,100.5 699.85,100.5" fill="#333"/>
<polygon points="698.5,287 697.15,279 699.85,279" fill="#333"/>
<text x="697" y="186.2" font-size="10.8" text-anchor="middle" font-family='"Liberation Sans", sans-serif' fill="#505050" letter-spacing="1" transform="rotate(-90 697 186.2)">C</text>
<line x1="655" y1="287" x2="702" y2="287" stroke="#555" stroke-width="0.7"/>
<text x="566" y="131.5" font-size="10.8" text-anchor="middle" font-family='"Liberation Sans", sans-serif' fill="#505050" letter-spacing="1">KB</text>
<line x1="564.3" y1="133.5" x2="594.5" y2="133.5" stroke="#4a4a4a" stroke-width="0.7"/>
<polygon points="580,133.5 585,132.15 585,134.85" fill="#333"/>
<polygon points="592,133.5 587,132.15 587,134.85" fill="#333"/>
<line x1="579.4" y1="131" x2="579.4" y2="155" stroke="#555" stroke-width="0.7"/>
<line x1="564.1" y1="141.8" x2="564.1" y2="172" stroke="#4a4a4a" stroke-width="0.7"/>
<polygon points="564.1,149.6 562.75,144.6 565.45,144.6" fill="#333"/>
<polygon points="564.1,161 562.75,166 565.45,166" fill="#333"/>
<text x="560.5" y="155.3" font-size="10.8" text-anchor="middle" font-family='"Liberation Sans", sans-serif' fill="#505050" letter-spacing="1" transform="rotate(-90 560.5 155.3)">K</text>
<line x1="826.6" y1="65" x2="950.2" y2="65" stroke="#4a4a4a" stroke-width="0.8"/>
<polygon points="826.6,65 834.6,63.65 834.6,66.35" fill="#333"/>
<polygon points="950.2,65 942.2,63.65 942.2,66.35" fill="#333"/>
<text x="891" y="63.5" font-size="10.8" text-anchor="middle" font-family='"Liberation Sans", sans-serif' fill="#505050" letter-spacing="1">B</text>
<line x1="826.6" y1="80.4" x2="897" y2="80.4" stroke="#4a4a4a" stroke-width="0.8"/>
<polygon points="826.6,80.4 834.6,79.05 834.6,81.75" fill="#333"/>
<polygon points="897,80.4 889,79.05 889,81.75" fill="#333"/>
<line x1="897" y1="80.4" x2="950.2" y2="80.4" stroke="#4a4a4a" stroke-width="0.8"/>
<polygon points="897,80.4 905,79.05 905,81.75" fill="#333"/>
<polygon points="950.2,80.4 942.2,79.05 942.2,81.75" fill="#333"/>
<text x="866" y="79.2" font-size="10.8" text-anchor="middle" font-family='"Liberation Sans", sans-serif' fill="#505050" letter-spacing="1">BA</text>
<text x="927.7" y="79.2" font-size="10.8" text-anchor="middle" font-family='"Liberation Sans", sans-serif' fill="#505050" letter-spacing="1">BC</text>
<line x1="826.6" y1="61" x2="826.6" y2="142" stroke="#555" stroke-width="0.7"/>
<line x1="950.2" y1="61" x2="950.2" y2="213" stroke="#555" stroke-width="0.7"/>
<path d="M866.4,161 L866.4,103 Q864.2,103 864.2,100.5 L864.2,95.5 Q864.2,92 867.7,92 L927.2,92 Q930.7,92 930.7,95.5 L930.7,100.5 Q930.7,103 928.5,103 L928.5,161" fill="#fff" stroke="#333" stroke-width="1.1"/>
<path d="M868.4,161 L868.4,102.5 L880.5,102.5 L880.5,159 L888.4,159 L888.4,102.5 L905.3,102.5 L905.3,159 L913.2,159 L913.2,102.5 L926.5,102.5 L926.5,161" fill="none" stroke="#333" stroke-width="1.3"/>
<line x1="869.8" y1="103.5" x2="869.8" y2="160" stroke="#333" stroke-width="0.7"/>
<line x1="925.1" y1="103.5" x2="925.1" y2="160" stroke="#333" stroke-width="0.7"/>
<line x1="887.1" y1="102.5" x2="887.1" y2="158.5" stroke="#666" stroke-width="0.6"/>
<line x1="911.9" y1="102.5" x2="911.9" y2="158.5" stroke="#666" stroke-width="0.6"/>
<path d="M889.3,102.5 L889.3,138.2 L890.8,138.2 L890.8,152.7 L903.5,152.7 L903.5,138.2 L905,138.2 L905,102.5" fill="none" stroke="#333" stroke-width="0.9"/>
<line x1="892" y1="138.2" x2="892" y2="151.7" stroke="#666" stroke-width="0.6"/>
<line x1="902.3" y1="138.2" x2="902.3" y2="151.7" stroke="#666" stroke-width="0.6"/>
<path d="M826,143.5 Q826,142 827.8,142 Q829.6,142 829.6,143.5 L829.6,175.3 Q829.6,177.5 831.8,177.5 L941,177.5 L941,181.8 L830.5,181.8 Q826,181.8 826,177.3 Z" fill="#fff" stroke="#333" stroke-width="1.0"/>
<rect x="826.2" y="159.6" width="3.2" height="2.8" fill="#222"/>
<line x1="822" y1="155.5" x2="836" y2="155.5" stroke="#555" stroke-width="0.7"/>
<path d="M864.5,161.8 L929.8,161.8 L932.3,165.1 L862,165.1 Z" fill="#555" stroke="#333" stroke-width="1.0"/>
<line x1="863" y1="163" x2="931.3" y2="163" stroke="#bbb" stroke-width="0.6"/>
<path d="M853.3,177.5 L853.3,168.1 Q853.3,165.1 856.3,165.1 L937.4,165.1 Q940.4,165.1 940.4,168.1 L940.4,177.5 Z" fill="#fff" stroke="#333" stroke-width="1.2"/>
<line x1="855.7" y1="165.7" x2="855.7" y2="177.5" stroke="#333" stroke-width="0.9"/>
<line x1="861.2" y1="165.7" x2="861.2" y2="177.5" stroke="#333" stroke-width="0.9"/>
<line x1="864.2" y1="165.7" x2="864.2" y2="177.5" stroke="#333" stroke-width="0.9"/>
<line x1="880.5" y1="165.7" x2="880.5" y2="177.5" stroke="#333" stroke-width="0.9"/>
<line x1="886.6" y1="165.7" x2="886.6" y2="177.5" stroke="#333" stroke-width="0.9"/>
<line x1="907.1" y1="165.7" x2="907.1" y2="177.5" stroke="#333" stroke-width="0.9"/>
<line x1="913.2" y1="165.7" x2="913.2" y2="177.5" stroke="#333" stroke-width="0.9"/>
<line x1="930.1" y1="165.7" x2="930.1" y2="177.5" stroke="#333" stroke-width="0.9"/>
<line x1="933.1" y1="165.7" x2="933.1" y2="177.5" stroke="#333" stroke-width="0.9"/>
<line x1="938" y1="165.7" x2="938" y2="177.5" stroke="#333" stroke-width="0.9"/>
<path d="M854.3,167.5 Q855,164.5 855.7,167.5 M861.2,167.5 Q862.7,164.5 864.2,167.5 M880.5,167.5 Q883.55,164.5 886.6,167.5 M907.1,167.5 Q910.15,164.5 913.2,167.5 M930.1,167.5 Q931.6,164.5 933.1,167.5 M938,167.5 Q938.7,164.5 939.4,167.5 " fill="none" stroke="#555" stroke-width="0.7"/>
<path d="M850.8,271.6 L850.8,181.5 L943.4,181.5 L943.4,271.6 Z" fill="#fff" stroke="#333" stroke-width="1.2"/>
<line x1="850.8" y1="193.6" x2="857.3" y2="189.3" stroke="#333" stroke-width="0.9"/>
<line x1="857.3" y1="189.3" x2="861" y2="189.3" stroke="#333" stroke-width="0.9"/>
<path d="M861,189.3 L861,186.7 Q861,183.7 867,183.7 Q873,183.7 873,186.7 L873,189.3" fill="#fff" stroke="#333" stroke-width="1.1"/>
<rect x="861.6" y="186.9" width="10.8" height="1.9" fill="#aaa"/>
<line x1="861.5" y1="186.7" x2="872.5" y2="186.7" stroke="#444" stroke-width="0.8"/>
<circle cx="866.5" cy="187.9" r="0.9" fill="#222"/>
<line x1="873.4" y1="181.5" x2="873.4" y2="189.3" stroke="#333" stroke-width="1.0"/>
<line x1="943.4" y1="193.6" x2="936.9" y2="189.3" stroke="#333" stroke-width="0.9"/>
<line x1="936.9" y1="189.3" x2="933" y2="189.3" stroke="#333" stroke-width="0.9"/>
<path d="M921,189.3 L921,186.7 Q921,183.7 927,183.7 Q933,183.7 933,186.7 L933,189.3" fill="#fff" stroke="#333" stroke-width="1.1"/>
<rect x="921.6" y="186.9" width="10.8" height="1.9" fill="#aaa"/>
<line x1="921.5" y1="186.7" x2="932.5" y2="186.7" stroke="#444" stroke-width="0.8"/>
<circle cx="926.5" cy="187.9" r="0.9" fill="#222"/>
<line x1="920.6" y1="181.5" x2="920.6" y2="189.3" stroke="#333" stroke-width="1.0"/>
<line x1="850.5" y1="198.4" x2="943.6" y2="198.4" stroke="#333" stroke-width="1.0"/>
<line x1="857.3" y1="189.3" x2="857.3" y2="271.6" stroke="#333" stroke-width="0.9"/>
<line x1="864.3" y1="189.3" x2="864.3" y2="271.6" stroke="#333" stroke-width="1.0"/>
<line x1="929.7" y1="189.3" x2="929.7" y2="271.6" stroke="#333" stroke-width="1.0"/>
<line x1="936.7" y1="189.3" x2="936.7" y2="271.6" stroke="#333" stroke-width="0.9"/>
<path d="M943.6,213.2 L948.5,213.2 Q950.4,213.2 950.4,215.5 L950.4,257.4 Q950.4,259.7 948.5,259.7 L943.6,259.7" fill="#fff" stroke="#333" stroke-width="1.1"/>
<line x1="948.6" y1="215.5" x2="948.6" y2="257.4" stroke="#333" stroke-width="0.8"/>
<path d="M881.6,209.3 L911.9,209.3 L922.4,219.8 L922.4,250.1 L911.9,260.6 L881.6,260.6 L871.1,250.1 L871.1,219.8 Z" fill="none" stroke="#333" stroke-width="1.1"/>
<circle cx="897" cy="234.7" r="13.9" fill="none" stroke="#333" stroke-width="1.3"/>
<circle cx="897" cy="234.7" r="12.5" fill="none" stroke="#333" stroke-width="0.7"/>
<path d="M862,271.6 L862,284.8 Q862,286.8 864,286.8 L930,286.8 Q932,286.8 932,284.8 L932,271.6" fill="#fff" stroke="#333" stroke-width="1.2"/>
<line x1="863" y1="274.6" x2="931" y2="274.6" stroke="#777" stroke-width="0.6"/>
<path d="M869.88,286.3 L869.88,276.1 L881.42,276.1 L881.42,286.3" fill="none" stroke="#333" stroke-width="1.0"/>
<line x1="871.48" y1="277.6" x2="871.48" y2="286.3" stroke="#333" stroke-width="0.6"/>
<path d="M891.23,286.3 L891.23,276.1 L902.77,276.1 L902.77,286.3" fill="none" stroke="#333" stroke-width="1.0"/>
<line x1="892.83" y1="277.6" x2="892.83" y2="286.3" stroke="#333" stroke-width="0.6"/>
<path d="M912.58,286.3 L912.58,276.1 L924.12,276.1 L924.12,286.3" fill="none" stroke="#333" stroke-width="1.0"/>
<line x1="914.18" y1="277.6" x2="914.18" y2="286.3" stroke="#333" stroke-width="0.6"/>
<line x1="865.5" y1="276.1" x2="865.5" y2="286.3" stroke="#333" stroke-width="1.0"/>
<line x1="928.5" y1="276.1" x2="928.5" y2="286.3" stroke="#333" stroke-width="1.0"/>
<line x1="863.8" y1="276.6" x2="863.8" y2="285.8" stroke="#666" stroke-width="0.5"/>
<line x1="930.2" y1="276.6" x2="930.2" y2="285.8" stroke="#666" stroke-width="0.5"/>
<text x="767.2" y="135" font-size="10.5" text-anchor="start" font-family='"Liberation Sans", sans-serif' fill="#505050" textLength="41.1" lengthAdjust="spacingAndGlyphs">安裝支架</text>
<text x="767.5" y="150.2" font-size="10.5" text-anchor="start" font-family='"Liberation Sans", sans-serif' fill="#505050" textLength="42.5" lengthAdjust="spacingAndGlyphs">(可選項)</text>
<line x1="774" y1="139.1" x2="808" y2="139.1" stroke="#555" stroke-width="0.8"/>
<line x1="808" y1="139.1" x2="827.5" y2="159" stroke="#555" stroke-width="0.8"/>
<text x="952.6" y="146" font-size="10.8" text-anchor="middle" font-family='"Liberation Sans", sans-serif' fill="#505050" letter-spacing="1">D</text>
<line x1="947" y1="147.7" x2="960" y2="147.7" stroke="#555" stroke-width="0.8"/>
<line x1="947" y1="147.7" x2="935" y2="159.2" stroke="#555" stroke-width="0.8"/>
<polygon points="931.3,163 934.9,156.76 937.36,159.1" fill="#333"/>
<text x="843" y="297" font-size="10.8" text-anchor="middle" font-family='"Liberation Sans", sans-serif' fill="#505050" letter-spacing="1">P</text>
<line x1="833.5" y1="299.5" x2="848.8" y2="299.5" stroke="#555" stroke-width="0.8"/>
<line x1="848.8" y1="299.5" x2="911.4" y2="216.6" stroke="#555" stroke-width="0.8"/>
<line x1="296.4" y1="560.9" x2="389.3" y2="560.9" stroke="#4a4a4a" stroke-width="0.8"/>
<polygon points="296.4,560.9 304.4,559.55 304.4,562.25" fill="#333"/>
<polygon points="389.3,560.9 381.3,559.55 381.3,562.25" fill="#333"/>
<text x="343" y="560.3" font-size="10.8" text-anchor="middle" font-family='"Liberation Sans", sans-serif' fill="#505050" letter-spacing="1">90</text>
<line x1="308.4" y1="574.4" x2="377.1" y2="574.4" stroke="#4a4a4a" stroke-width="0.8"/>
<polygon points="308.4,574.4 316.4,573.05 316.4,575.75" fill="#333"/>
<polygon points="377.1,574.4 369.1,573.05 369.1,575.75" fill="#333"/>
<text x="344.8" y="573.5" font-size="10.8" text-anchor="middle" font-family='"Liberation Sans", sans-serif' fill="#505050" letter-spacing="1">66</text>
<line x1="309.4" y1="588.4" x2="376.1" y2="588.4" stroke="#4a4a4a" stroke-width="0.8"/>
<polygon points="309.4,588.4 317.4,587.05 317.4,589.75" fill="#333"/>
<polygon points="376.1,588.4 368.1,587.05 368.1,589.75" fill="#333"/>
<text x="346.6" y="585.8" font-size="10.8" text-anchor="middle" font-family='"Liberation Sans", sans-serif' fill="#505050" letter-spacing="1">Φ64</text>
<line x1="296.4" y1="557" x2="296.4" y2="655.2" stroke="#555" stroke-width="0.7"/>
<line x1="389.3" y1="557" x2="389.3" y2="655.2" stroke="#555" stroke-width="0.7"/>
<line x1="308.4" y1="571" x2="308.4" y2="597.3" stroke="#555" stroke-width="0.7"/>
<line x1="377.1" y1="571" x2="377.1" y2="597.3" stroke="#555" stroke-width="0.7"/>
<path d="M296.7,692 L296.7,659 Q296.7,655.2 300.5,655.2 L309.3,655.2" fill="none" stroke="#333" stroke-width="1.1"/>
<path d="M389.1,692 L389.1,659 Q389.1,655.2 385.3,655.2 L375.8,655.2" fill="none" stroke="#333" stroke-width="1.1"/>
<circle cx="306" cy="667.2" r="4.8" fill="none" stroke="#333" stroke-width="1.0"/>
<circle cx="379.2" cy="667.2" r="4.8" fill="none" stroke="#333" stroke-width="1.0"/>
<path d="M309.3,672.5 L309.3,600.8 Q309.3,597.3 312.8,597.3 L372.3,597.3 Q375.8,597.3 375.8,600.8 L375.8,672.5" fill="#fff" stroke="#333" stroke-width="1.0"/>
<line x1="309.3" y1="610" x2="375.8" y2="610" stroke="#333" stroke-width="1.0"/>
<rect x="325.3" y="605.7" width="9.3" height="64.8" rx="0.8" fill="#fff" stroke="#333" stroke-width="1.1"/>
<line x1="325.3" y1="608.2" x2="334.6" y2="608.2" stroke="#777" stroke-width="0.6"/>
<rect x="350.6" y="605.7" width="9.3" height="64.8" rx="0.8" fill="#fff" stroke="#333" stroke-width="1.1"/>
<line x1="350.6" y1="608.2" x2="359.9" y2="608.2" stroke="#777" stroke-width="0.6"/>
<rect x="310.3" y="605.7" width="4.3" height="64.8" rx="0.8" fill="#fff" stroke="#333" stroke-width="1.1"/>
<line x1="310.3" y1="608.2" x2="314.6" y2="608.2" stroke="#777" stroke-width="0.6"/>
<rect x="370.5" y="605.7" width="4.5" height="64.8" rx="0.8" fill="#fff" stroke="#333" stroke-width="1.1"/>
<line x1="370.5" y1="608.2" x2="375" y2="608.2" stroke="#777" stroke-width="0.6"/>
<line x1="316" y1="610" x2="316" y2="670.5" stroke="#333" stroke-width="0.9"/>
<line x1="369.2" y1="610" x2="369.2" y2="670.5" stroke="#333" stroke-width="0.9"/>
<path d="M336.6,647.2 L336.6,663.2 L348.6,663.2 L348.6,647.2" fill="none" stroke="#333" stroke-width="1.8"/>
<line x1="375.8" y1="597.7" x2="432" y2="597.7" stroke="#555" stroke-width="0.7"/>
<text x="284.8" y="628.6" font-size="10.8" text-anchor="middle" font-family='"Liberation Sans", sans-serif' fill="#505050" letter-spacing="1">13</text>
<line x1="275.8" y1="631.1" x2="336" y2="631.1" stroke="#4a4a4a" stroke-width="0.7"/>
<polygon points="301.5,631.1 294.5,629.7 294.5,632.5" fill="#333"/>
<polygon points="317.4,631.1 324.4,629.7 324.4,632.5" fill="#333"/>
<line x1="301.5" y1="629" x2="301.5" y2="662" stroke="#555" stroke-width="0.7"/>
<line x1="282.3" y1="649.6" x2="282.3" y2="686.6" stroke="#4a4a4a" stroke-width="0.7"/>
<polygon points="282.3,661.4 280.95,656.4 283.65,656.4" fill="#333"/>
<polygon points="282.3,673.5 280.95,678.5 283.65,678.5" fill="#333"/>
<line x1="279" y1="661.4" x2="305" y2="661.4" stroke="#555" stroke-width="0.7"/>
<line x1="279" y1="673.5" x2="310" y2="673.5" stroke="#555" stroke-width="0.7"/>
<text x="281.3" y="666.8" font-size="10.8" text-anchor="middle" font-family='"Liberation Sans", sans-serif' fill="#505050" letter-spacing="1" transform="rotate(-90 281.3 666.8)">11</text>
<line x1="384" y1="667.2" x2="416" y2="667.2" stroke="#555" stroke-width="0.7"/>
<path d="M311.5,672.2 L374.5,672.2 L377,675.2 L309,675.2 Z" fill="#aaa" stroke="#333" stroke-width="1.0"/>
<line x1="310" y1="673.4" x2="376" y2="673.4" stroke="#bbb" stroke-width="0.6"/>
<path d="M302.6,689.8 L302.6,678.2 Q302.6,675.2 305.6,675.2 L380.2,675.2 Q383.2,675.2 383.2,678.2 L383.2,689.8 Z" fill="#fff" stroke="#333" stroke-width="1.2"/>
<line x1="316.6" y1="675.8" x2="316.6" y2="689.8" stroke="#333" stroke-width="0.9"/>
<line x1="319.3" y1="675.8" x2="319.3" y2="689.8" stroke="#333" stroke-width="0.9"/>
<line x1="340.6" y1="675.8" x2="340.6" y2="689.8" stroke="#333" stroke-width="0.9"/>
<line x1="343.9" y1="675.8" x2="343.9" y2="689.8" stroke="#333" stroke-width="0.9"/>
<line x1="365.9" y1="675.8" x2="365.9" y2="689.8" stroke="#333" stroke-width="0.9"/>
<line x1="368.5" y1="675.8" x2="368.5" y2="689.8" stroke="#333" stroke-width="0.9"/>
<path d="M303.6,677.6 Q310.1,674.6 316.6,677.6 M319.3,677.6 Q329.95,674.6 340.6,677.6 M343.9,677.6 Q354.9,674.6 365.9,677.6 M368.5,677.6 Q375.35,674.6 382.2,677.6 " fill="none" stroke="#555" stroke-width="0.7"/>
<rect x="296.1" y="689.2" width="93.9" height="3" fill="#fff" stroke="#333" stroke-width="1.1"/>
<path d="M298.2,781.7 L298.2,692.2 L387.2,692.2 L387.2,781.7 Z" fill="#fff" stroke="#333" stroke-width="1.2"/>
<line x1="298.2" y1="707.3" x2="387.2" y2="707.3" stroke="#333" stroke-width="1.0"/>
<line x1="314.2" y1="692.2" x2="314.2" y2="781.7" stroke="#333" stroke-width="1.0"/>
<line x1="316.3" y1="692.2" x2="316.3" y2="781.7" stroke="#333" stroke-width="0.8"/>
<line x1="368.4" y1="692.2" x2="368.4" y2="781.7" stroke="#333" stroke-width="0.8"/>
<line x1="370.5" y1="692.2" x2="370.5" y2="781.7" stroke="#333" stroke-width="1.0"/>
<rect x="299.6" y="692.2" width="14.6" height="8.1" fill="none" stroke="#333" stroke-width="0.9"/>
<rect x="370.5" y="692.2" width="14.6" height="8.1" fill="none" stroke="#333" stroke-width="0.9"/>
<rect x="303.5" y="693.5" width="7" height="5.5" fill="none" stroke="#333" stroke-width="0.6"/>
<rect x="374.5" y="693.5" width="7" height="5.5" fill="none" stroke="#333" stroke-width="0.6"/>
<path d="M338.3,713.55 L346.9,717.4 L338.3,721.25 Q339.5,717.4 338.3,713.55 Z" fill="none" stroke="#333" stroke-width="1.1"/>
<rect x="328.3" y="729.3" width="28.7" height="28.3" fill="none" stroke="#333" stroke-width="1.5"/>
<circle cx="342.9" cy="743.4" r="11.1" fill="#fff" stroke="#333" stroke-width="1.1"/>
<path d="M333.58,746.17 A9.32,9.32 0 1 1 351.78,746.73" fill="none" stroke="#222" stroke-width="2.886" stroke-dasharray="0.6,0.55"/>
<line x1="334.02" y1="747.06" x2="342.9" y2="743.4" stroke="#222" stroke-width="2.0"/>
<line x1="342.9" y1="743.4" x2="347.12" y2="740.96" stroke="#333" stroke-width="1.1"/>
<path d="M345.67,740.96 L347.56,739.74 L348.23,741.4 L346.23,742.51 Z" fill="#fff" stroke="#333" stroke-width="0.8"/>
<circle cx="342.9" cy="743.4" r="1.89" fill="#333" stroke="#333" stroke-width="1.2"/>
<circle cx="342.9" cy="743.4" r="0.67" fill="#333"/>
<circle cx="353.4" cy="732.5" r="2.8" fill="#444" stroke="#333" stroke-width="0.8"/>
<circle cx="331.6" cy="754" r="2.8" fill="#444" stroke="#333" stroke-width="0.8"/>
<rect x="321.4" y="765.7" width="42.2" height="12.2" fill="none" stroke="#333" stroke-width="0.8"/>
<line x1="342" y1="765.7" x2="342" y2="777.9" stroke="#333" stroke-width="0.6"/>
<rect x="322.9" y="773.3" width="17.1" height="3.6" fill="#666"/>
<rect x="351.72" y="767.2" width="10.38" height="2" fill="#999"/>
<rect x="354.96" y="769.9" width="7.14" height="1.6" fill="#aaa"/>
<rect x="348.48" y="771.4" width="13.62" height="1.7" fill="#999"/>
<rect x="352.8" y="774.1" width="9.3" height="2.3" fill="#999"/>
<path d="M307.9,781.7 L307.9,793.6 Q307.9,795.6 309.9,795.6 L375.9,795.6 Q377.9,795.6 377.9,793.6 L377.9,781.7" fill="#fff" stroke="#333" stroke-width="1.2"/>
<line x1="308.9" y1="784.7" x2="376.9" y2="784.7" stroke="#777" stroke-width="0.6"/>
<path d="M315.77,795.1 L315.77,786.2 L327.32,786.2 L327.32,795.1" fill="none" stroke="#333" stroke-width="1.0"/>
<line x1="317.38" y1="787.7" x2="317.38" y2="795.1" stroke="#333" stroke-width="0.6"/>
<path d="M337.12,795.1 L337.12,786.2 L348.67,786.2 L348.67,795.1" fill="none" stroke="#333" stroke-width="1.0"/>
<line x1="338.73" y1="787.7" x2="338.73" y2="795.1" stroke="#333" stroke-width="0.6"/>
<path d="M358.48,795.1 L358.48,786.2 L370.02,786.2 L370.02,795.1" fill="none" stroke="#333" stroke-width="1.0"/>
<line x1="360.08" y1="787.7" x2="360.08" y2="795.1" stroke="#333" stroke-width="0.6"/>
<line x1="311.4" y1="786.2" x2="311.4" y2="795.1" stroke="#333" stroke-width="1.0"/>
<line x1="374.4" y1="786.2" x2="374.4" y2="795.1" stroke="#333" stroke-width="1.0"/>
<line x1="309.7" y1="786.7" x2="309.7" y2="794.6" stroke="#666" stroke-width="0.5"/>
<line x1="376.1" y1="786.7" x2="376.1" y2="794.6" stroke="#666" stroke-width="0.5"/>
<path d="M298.2,723.64 Q295.6,723.64 295.6,728.49 L295.6,758.31 Q295.6,763.16 298.2,763.16" fill="#fff" stroke="#333" stroke-width="1.0"/>
<rect x="291.3" y="717.7" width="4.3" height="51.4" rx="2" fill="#fff" stroke="#333" stroke-width="1.1"/>
<line x1="291.3" y1="728.49" x2="295.6" y2="728.49" stroke="#333" stroke-width="0.9"/>
<line x1="291.3" y1="758.31" x2="295.6" y2="758.31" stroke="#333" stroke-width="0.9"/>
<line x1="295.6" y1="728.49" x2="295.6" y2="758.31" stroke="#222" stroke-width="1.6"/>
<path d="M387.2,723.64 Q389.9,723.64 389.9,728.49 L389.9,758.31 Q389.9,763.16 387.2,763.16" fill="#fff" stroke="#333" stroke-width="1.0"/>
<rect x="389.9" y="717.7" width="4.3" height="51.4" rx="2" fill="#fff" stroke="#333" stroke-width="1.1"/>
<line x1="389.9" y1="728.49" x2="394.2" y2="728.49" stroke="#333" stroke-width="0.9"/>
<line x1="389.9" y1="758.31" x2="394.2" y2="758.31" stroke="#333" stroke-width="0.9"/>
<line x1="389.9" y1="728.49" x2="389.9" y2="758.31" stroke="#222" stroke-width="1.6"/>
<line x1="291" y1="813.7" x2="393.8" y2="813.7" stroke="#4a4a4a" stroke-width="0.8"/>
<polygon points="291,813.7 299,812.35 299,815.05" fill="#333"/>
<polygon points="393.8,813.7 385.8,812.35 385.8,815.05" fill="#333"/>
<text x="345.5" y="812" font-size="10.8" text-anchor="middle" font-family='"Liberation Sans", sans-serif' fill="#505050" letter-spacing="1">99</text>
<line x1="291" y1="769" x2="291" y2="817" stroke="#555" stroke-width="0.7"/>
<line x1="393.8" y1="769" x2="393.8" y2="817" stroke="#555" stroke-width="0.7"/>
<line x1="412.5" y1="667.2" x2="412.5" y2="743.1" stroke="#4a4a4a" stroke-width="0.8"/>
<polygon points="412.5,667.2 411.15,675.2 413.85,675.2" fill="#333"/>
<polygon points="412.5,743.1 411.15,735.1 413.85,735.1" fill="#333"/>
<text x="411" y="704" font-size="10.8" text-anchor="middle" font-family='"Liberation Sans", sans-serif' fill="#505050" letter-spacing="1" transform="rotate(-90 411 704)">73.5</text>
<line x1="428.5" y1="597.7" x2="428.5" y2="794.7" stroke="#4a4a4a" stroke-width="0.8"/>
<polygon points="428.5,597.7 427.15,605.7 429.85,605.7" fill="#333"/>
<polygon points="428.5,794.7 427.15,786.7 429.85,786.7" fill="#333"/>
<text x="427" y="695.6" font-size="10.8" text-anchor="middle" font-family='"Liberation Sans", sans-serif' fill="#505050" letter-spacing="1" transform="rotate(-90 427 695.6)">191.5</text>
<line x1="378" y1="794.7" x2="432" y2="794.7" stroke="#555" stroke-width="0.7"/>
<line x1="546.6" y1="573" x2="668.2" y2="573" stroke="#4a4a4a" stroke-width="0.8"/>
<polygon points="546.6,573 554.6,571.65 554.6,574.35" fill="#333"/>
<polygon points="668.2,573 660.2,571.65 660.2,574.35" fill="#333"/>
<text x="608" y="571.5" font-size="10.8" text-anchor="middle" font-family='"Liberation Sans", sans-serif' fill="#505050" letter-spacing="1">118</text>
<line x1="546.6" y1="587.4" x2="619.2" y2="587.4" stroke="#4a4a4a" stroke-width="0.8"/>
<polygon points="546.6,587.4 554.6,586.05 554.6,588.75" fill="#333"/>
<polygon points="619.2,587.4 611.2,586.05 611.2,588.75" fill="#333"/>
<line x1="619.2" y1="587.4" x2="668.2" y2="587.4" stroke="#4a4a4a" stroke-width="0.8"/>
<polygon points="619.2,587.4 627.2,586.05 627.2,588.75" fill="#333"/>
<polygon points="668.2,587.4 660.2,586.05 660.2,588.75" fill="#333"/>
<text x="586.5" y="585.5" font-size="10.8" text-anchor="middle" font-family='"Liberation Sans", sans-serif' fill="#505050" letter-spacing="1">70</text>
<text x="639.7" y="585.5" font-size="10.8" text-anchor="middle" font-family='"Liberation Sans", sans-serif' fill="#505050" letter-spacing="1">48</text>
<line x1="546.6" y1="569" x2="546.6" y2="655" stroke="#555" stroke-width="0.7"/>
<line x1="668.2" y1="569" x2="668.2" y2="730" stroke="#555" stroke-width="0.7"/>
<path d="M586.2,672.5 L586.2,600.5 Q586.2,597 589.7,597 L649.2,597 Q652.7,597 652.7,600.5 L652.7,672.5" fill="#fff" stroke="#333" stroke-width="1.0"/>
<line x1="586.2" y1="610.3" x2="652.7" y2="610.3" stroke="#333" stroke-width="1.0"/>
<rect x="601.6" y="605.4" width="9.8" height="65.1" rx="0.8" fill="#fff" stroke="#333" stroke-width="1.1"/>
<line x1="601.6" y1="607.9" x2="611.4" y2="607.9" stroke="#777" stroke-width="0.6"/>
<rect x="626.1" y="605.4" width="10.5" height="65.1" rx="0.8" fill="#fff" stroke="#333" stroke-width="1.1"/>
<line x1="626.1" y1="607.9" x2="636.6" y2="607.9" stroke="#777" stroke-width="0.6"/>
<rect x="586.9" y="605.4" width="3.5" height="65.1" rx="0.8" fill="#fff" stroke="#333" stroke-width="1.1"/>
<line x1="586.9" y1="607.9" x2="590.4" y2="607.9" stroke="#777" stroke-width="0.6"/>
<rect x="647.8" y="605.4" width="4.2" height="65.1" rx="0.8" fill="#fff" stroke="#333" stroke-width="1.1"/>
<line x1="647.8" y1="607.9" x2="652" y2="607.9" stroke="#777" stroke-width="0.6"/>
<line x1="592.5" y1="610.3" x2="592.5" y2="670.5" stroke="#333" stroke-width="0.9"/>
<line x1="645.7" y1="610.3" x2="645.7" y2="670.5" stroke="#333" stroke-width="0.9"/>
<path d="M612.8,647.4 L612.8,663.5 L625.4,663.5 L625.4,647.4" fill="none" stroke="#333" stroke-width="1.8"/>
<path d="M547,657 Q547,655.1 548.4,655.1 Q549.8,655.1 549.8,657 L549.8,687.3 Q549.8,689.4 551.9,689.4 L660.4,689.4 L660.4,691.8 L551.2,691.8 Q547,691.8 547,687.6 Z" fill="#fff" stroke="#333" stroke-width="1.0"/>
<line x1="544" y1="667.4" x2="552" y2="667.4" stroke="#555" stroke-width="0.7"/>
<path d="M585.6,672.6 L651.9,672.6 L654.4,677.5 L583.1,677.5 Z" fill="#aaa" stroke="#333" stroke-width="1.0"/>
<line x1="584.1" y1="673.8" x2="653.4" y2="673.8" stroke="#bbb" stroke-width="0.6"/>
<path d="M578.5,689.4 L578.5,680.5 Q578.5,677.5 581.5,677.5 L656.7,677.5 Q659.7,677.5 659.7,680.5 L659.7,689.4 Z" fill="#fff" stroke="#333" stroke-width="1.2"/>
<line x1="592.5" y1="678.1" x2="592.5" y2="689.4" stroke="#333" stroke-width="0.9"/>
<line x1="595.3" y1="678.1" x2="595.3" y2="689.4" stroke="#333" stroke-width="0.9"/>
<line x1="617.7" y1="678.1" x2="617.7" y2="689.4" stroke="#333" stroke-width="0.9"/>
<line x1="620.5" y1="678.1" x2="620.5" y2="689.4" stroke="#333" stroke-width="0.9"/>
<line x1="642.2" y1="678.1" x2="642.2" y2="689.4" stroke="#333" stroke-width="0.9"/>
<line x1="645" y1="678.1" x2="645" y2="689.4" stroke="#333" stroke-width="0.9"/>
<path d="M579.5,679.9 Q586,676.9 592.5,679.9 M595.3,679.9 Q606.5,676.9 617.7,679.9 M620.5,679.9 Q631.35,676.9 642.2,679.9 M645,679.9 Q651.85,676.9 658.7,679.9 " fill="none" stroke="#555" stroke-width="0.7"/>
<path d="M573.6,781.7 L573.6,692.5 L664.6,692.5 L664.6,781.7 Z" fill="#fff" stroke="#333" stroke-width="1.2"/>
<line x1="573.6" y1="707.6" x2="664.6" y2="707.6" stroke="#333" stroke-width="1.0"/>
<line x1="583.1" y1="692.5" x2="583.1" y2="781.7" stroke="#333" stroke-width="0.8"/>
<line x1="585" y1="700" x2="585" y2="781.7" stroke="#333" stroke-width="1.0"/>
<line x1="653.4" y1="700" x2="653.4" y2="781.7" stroke="#333" stroke-width="1.0"/>
<line x1="655.3" y1="692.5" x2="655.3" y2="781.7" stroke="#333" stroke-width="0.8"/>
<rect x="579.2" y="692.5" width="15.4" height="7.4" fill="none" stroke="#333" stroke-width="0.9"/>
<rect x="642.9" y="692.5" width="16.1" height="7.4" fill="none" stroke="#333" stroke-width="0.9"/>
<rect x="581" y="693.5" width="9" height="6" fill="none" stroke="#333" stroke-width="0.6"/>
<rect x="647" y="693.5" width="9" height="6" fill="none" stroke="#333" stroke-width="0.6"/>
<circle cx="585.5" cy="696.5" r="1.6" fill="none" stroke="#333" stroke-width="0.7"/>
<circle cx="651.5" cy="696.5" r="1.6" fill="none" stroke="#333" stroke-width="0.7"/>
<path d="M664.6,729.4 L666.6,729.4 Q668.6,729.4 668.6,732 L668.6,755.3 Q668.6,757.9 666.6,757.9 L664.6,757.9" fill="#fff" stroke="#333" stroke-width="1.0"/>
<path d="M602.7,718.3 L635.4,718.3 L644.8,727.7 L644.8,759.7 L635.4,769.1 L602.7,769.1 L593.3,759.7 L593.3,727.7 Z" fill="none" stroke="#333" stroke-width="1.2"/>
<rect x="597.3" y="721.5" width="43.5" height="43.6" fill="none" stroke="#333" stroke-width="0.9" stroke-dasharray="3.5,2.2"/>
<circle cx="620.1" cy="743.7" r="17" fill="none" stroke="#333" stroke-width="0.8"/>
<circle cx="619" cy="743.3" r="14.9" fill="none" stroke="#333" stroke-width="2.0"/>
<path d="M584,781.7 L584,793.5 Q584,795.5 586,795.5 L651.8,795.5 Q653.8,795.5 653.8,793.5 L653.8,781.7" fill="#fff" stroke="#333" stroke-width="1.2"/>
<line x1="585" y1="784.7" x2="652.8" y2="784.7" stroke="#777" stroke-width="0.6"/>
<path d="M591.85,795 L591.85,786.2 L603.37,786.2 L603.37,795" fill="none" stroke="#333" stroke-width="1.0"/>
<line x1="593.45" y1="787.7" x2="593.45" y2="795" stroke="#333" stroke-width="0.6"/>
<path d="M613.14,795 L613.14,786.2 L624.66,786.2 L624.66,795" fill="none" stroke="#333" stroke-width="1.0"/>
<line x1="614.74" y1="787.7" x2="614.74" y2="795" stroke="#333" stroke-width="0.6"/>
<path d="M634.43,795 L634.43,786.2 L645.95,786.2 L645.95,795" fill="none" stroke="#333" stroke-width="1.0"/>
<line x1="636.03" y1="787.7" x2="636.03" y2="795" stroke="#333" stroke-width="0.6"/>
<line x1="587.5" y1="786.2" x2="587.5" y2="795" stroke="#333" stroke-width="1.0"/>
<line x1="650.3" y1="786.2" x2="650.3" y2="795" stroke="#333" stroke-width="1.0"/>
<line x1="585.8" y1="786.7" x2="585.8" y2="794.5" stroke="#666" stroke-width="0.5"/>
<line x1="652" y1="786.7" x2="652" y2="794.5" stroke="#666" stroke-width="0.5"/>
<text x="495.2" y="649.8" font-size="10.5" text-anchor="start" font-family='"Liberation Sans", sans-serif' fill="#505050" textLength="47.8" lengthAdjust="spacingAndGlyphs">安裝支架</text>
<text x="495" y="665.6" font-size="10.5" text-anchor="start" font-family='"Liberation Sans", sans-serif' fill="#505050" textLength="42" lengthAdjust="spacingAndGlyphs">(可選項)</text>
<line x1="492.4" y1="652.6" x2="536.4" y2="652.6" stroke="#555" stroke-width="0.8"/>
<line x1="536.4" y1="652.6" x2="547.5" y2="662.5" stroke="#555" stroke-width="0.8"/>
<text x="671.8" y="664.4" font-size="10.8" text-anchor="start" font-family='"Liberation Sans", sans-serif' fill="#505050" textLength="54.1" lengthAdjust="spacingAndGlyphs">M68×1.5</text>
<line x1="667" y1="666.2" x2="726" y2="666.2" stroke="#555" stroke-width="0.8"/>
<line x1="667" y1="666.2" x2="658" y2="673.6" stroke="#555" stroke-width="0.8"/>
<polygon points="654.8,676.1 659.2,670.4 661.33,673.05" fill="#333"/>
<text x="512.8" y="792.6" font-size="10.8" text-anchor="start" font-family='"Liberation Sans", sans-serif' fill="#505050" textLength="57" lengthAdjust="spacingAndGlyphs">20：PT3/4</text>
<text x="512.8" y="805.6" font-size="10.8" text-anchor="start" font-family='"Liberation Sans", sans-serif' fill="#505050" textLength="44.7" lengthAdjust="spacingAndGlyphs">25：PT1</text>
<line x1="515.7" y1="794.4" x2="569.8" y2="794.4" stroke="#555" stroke-width="0.8"/>
<line x1="569.8" y1="794.4" x2="634.5" y2="731.5" stroke="#555" stroke-width="0.8"/>
<polygon points="609.2,755.6 613.43,749.77 615.63,752.36" fill="#333"/>
<polygon points="629.9,735 625.93,741.01 623.62,738.52" fill="#333"/>
<rect x="39.1" y="352.5" width="920" height="21" fill="#eeedee"/>
<line x1="39.1" y1="352.5" x2="959.1" y2="352.5" stroke="#444" stroke-width="1.2"/>
<line x1="39.1" y1="373.5" x2="959.1" y2="373.5" stroke="#444" stroke-width="1.2"/>
<line x1="39.1" y1="393.3" x2="959.1" y2="393.3" stroke="#444" stroke-width="1.2"/>
<line x1="39.1" y1="413.9" x2="959.1" y2="413.9" stroke="#444" stroke-width="1.2"/>
<line x1="39.1" y1="434.2" x2="959.1" y2="434.2" stroke="#444" stroke-width="1.2"/>
<line x1="39.1" y1="454.8" x2="959.1" y2="454.8" stroke="#444" stroke-width="1.2"/>
<line x1="39.1" y1="475.5" x2="959.1" y2="475.5" stroke="#444" stroke-width="1.2"/>
<line x1="175.4" y1="352.5" x2="175.4" y2="475.5" stroke="#444" stroke-width="1.1"/>
<line x1="226.3" y1="352.5" x2="226.3" y2="475.5" stroke="#444" stroke-width="1.1"/>
<line x1="280.1" y1="352.5" x2="280.1" y2="475.5" stroke="#444" stroke-width="1.1"/>
<line x1="335.5" y1="352.5" x2="335.5" y2="475.5" stroke="#444" stroke-width="1.1"/>
<line x1="386.3" y1="352.5" x2="386.3" y2="475.5" stroke="#444" stroke-width="1.1"/>
<line x1="441.7" y1="352.5" x2="441.7" y2="475.5" stroke="#444" stroke-width="1.1"/>
<line x1="496.8" y1="352.5" x2="496.8" y2="475.5" stroke="#444" stroke-width="1.1"/>
<line x1="568.8" y1="352.5" x2="568.8" y2="475.5" stroke="#444" stroke-width="1.1"/>
<line x1="665.7" y1="352.5" x2="665.7" y2="475.5" stroke="#444" stroke-width="1.1"/>
<line x1="721.5" y1="352.5" x2="721.5" y2="475.5" stroke="#444" stroke-width="1.1"/>
<line x1="775.5" y1="352.5" x2="775.5" y2="475.5" stroke="#444" stroke-width="1.1"/>
<line x1="829.5" y1="352.5" x2="829.5" y2="475.5" stroke="#444" stroke-width="1.1"/>
<line x1="884.6" y1="352.5" x2="884.6" y2="475.5" stroke="#444" stroke-width="1.1"/>
<text x="107.25" y="367.3" font-size="13.5" text-anchor="middle" font-family='"Liberation Sans", sans-serif' fill="#3a3a3a">型号/符号</text>
<text x="200.85" y="367.3" font-size="13.5" text-anchor="middle" font-family='"Liberation Sans", sans-serif' fill="#3a3a3a">A</text>
<text x="253.2" y="367.3" font-size="13.5" text-anchor="middle" font-family='"Liberation Sans", sans-serif' fill="#3a3a3a">AB</text>
<text x="307.8" y="367.3" font-size="13.5" text-anchor="middle" font-family='"Liberation Sans", sans-serif' fill="#3a3a3a">AC</text>
<text x="360.9" y="367.3" font-size="13.5" text-anchor="middle" font-family='"Liberation Sans", sans-serif' fill="#3a3a3a">B</text>
<text x="414" y="367.3" font-size="13.5" text-anchor="middle" font-family='"Liberation Sans", sans-serif' fill="#3a3a3a">BA</text>
<text x="469.25" y="367.3" font-size="13.5" text-anchor="middle" font-family='"Liberation Sans", sans-serif' fill="#3a3a3a">BC</text>
<text x="532.8" y="367.3" font-size="13.5" text-anchor="middle" font-family='"Liberation Sans", sans-serif' fill="#3a3a3a">C</text>
<text x="617.25" y="367.3" font-size="13.5" text-anchor="middle" font-family='"Liberation Sans", sans-serif' fill="#3a3a3a">D</text>
<text x="693.6" y="367.3" font-size="13.5" text-anchor="middle" font-family='"Liberation Sans", sans-serif' fill="#3a3a3a">K</text>
<text x="748.5" y="367.3" font-size="13.5" text-anchor="middle" font-family='"Liberation Sans", sans-serif' fill="#3a3a3a">KA</text>
<text x="802.5" y="367.3" font-size="13.5" text-anchor="middle" font-family='"Liberation Sans", sans-serif' fill="#3a3a3a">KB</text>
<text x="857.05" y="367.3" font-size="13.5" text-anchor="middle" font-family='"Liberation Sans", sans-serif' fill="#3a3a3a">KC</text>
<text x="921.85" y="367.3" font-size="13.5" text-anchor="middle" font-family='"Liberation Sans", sans-serif' fill="#3a3a3a">P</text>
<text x="107.25" y="386" font-size="14" text-anchor="middle" font-family='"Liberation Sans", sans-serif' fill="#3a3a3a">GR300-08</text>
<text x="200.85" y="386" font-size="14" text-anchor="middle" font-family='"Liberation Sans", sans-serif' fill="#3a3a3a">60</text>
<text x="253.2" y="386" font-size="14" text-anchor="middle" font-family='"Liberation Sans", sans-serif' fill="#3a3a3a">53</text>
<text x="307.8" y="386" font-size="14" text-anchor="middle" font-family='"Liberation Sans", sans-serif' fill="#3a3a3a">38</text>
<text x="360.9" y="386" font-size="14" text-anchor="middle" font-family='"Liberation Sans", sans-serif' fill="#3a3a3a">72</text>
<text x="414" y="386" font-size="14" text-anchor="middle" font-family='"Liberation Sans", sans-serif' fill="#3a3a3a">41</text>
<text x="469.25" y="386" font-size="14" text-anchor="middle" font-family='"Liberation Sans", sans-serif' fill="#3a3a3a">31</text>
<text x="532.8" y="386" font-size="14" text-anchor="middle" font-family='"Liberation Sans", sans-serif' fill="#3a3a3a">112.5</text>
<text x="617.25" y="386" font-size="14" text-anchor="middle" font-family='"Liberation Sans", sans-serif' fill="#3a3a3a">M40×1.5</text>
<text x="693.6" y="386" font-size="14" text-anchor="middle" font-family='"Liberation Sans", sans-serif' fill="#3a3a3a">6.5</text>
<text x="748.5" y="386" font-size="14" text-anchor="middle" font-family='"Liberation Sans", sans-serif' fill="#3a3a3a">40</text>
<text x="802.5" y="386" font-size="14" text-anchor="middle" font-family='"Liberation Sans", sans-serif' fill="#3a3a3a">8</text>
<text x="857.05" y="386" font-size="14" text-anchor="middle" font-family='"Liberation Sans", sans-serif' fill="#3a3a3a">46</text>
<text x="921.85" y="386" font-size="14" text-anchor="middle" font-family='"Liberation Sans", sans-serif' fill="#3a3a3a">PT1/4</text>
<text x="107.25" y="403.5" font-size="14" text-anchor="middle" font-family='"Liberation Sans", sans-serif' fill="#3a3a3a">GR300-10</text>
<text x="200.85" y="403.5" font-size="14" text-anchor="middle" font-family='"Liberation Sans", sans-serif' fill="#3a3a3a">60</text>
<text x="253.2" y="403.5" font-size="14" text-anchor="middle" font-family='"Liberation Sans", sans-serif' fill="#3a3a3a">53</text>
<text x="307.8" y="403.5" font-size="14" text-anchor="middle" font-family='"Liberation Sans", sans-serif' fill="#3a3a3a">38</text>
<text x="360.9" y="403.5" font-size="14" text-anchor="middle" font-family='"Liberation Sans", sans-serif' fill="#3a3a3a">72</text>
<text x="414" y="403.5" font-size="14" text-anchor="middle" font-family='"Liberation Sans", sans-serif' fill="#3a3a3a">41</text>
<text x="469.25" y="403.5" font-size="14" text-anchor="middle" font-family='"Liberation Sans", sans-serif' fill="#3a3a3a">31</text>
<text x="532.8" y="403.5" font-size="14" text-anchor="middle" font-family='"Liberation Sans", sans-serif' fill="#3a3a3a">112.5</text>
<text x="617.25" y="403.5" font-size="14" text-anchor="middle" font-family='"Liberation Sans", sans-serif' fill="#3a3a3a">M40×1.5</text>
<text x="693.6" y="403.5" font-size="14" text-anchor="middle" font-family='"Liberation Sans", sans-serif' fill="#3a3a3a">6.5</text>
<text x="748.5" y="403.5" font-size="14" text-anchor="middle" font-family='"Liberation Sans", sans-serif' fill="#3a3a3a">40</text>
<text x="802.5" y="403.5" font-size="14" text-anchor="middle" font-family='"Liberation Sans", sans-serif' fill="#3a3a3a">8</text>
<text x="857.05" y="403.5" font-size="14" text-anchor="middle" font-family='"Liberation Sans", sans-serif' fill="#3a3a3a">46</text>
<text x="921.85" y="403.5" font-size="14" text-anchor="middle" font-family='"Liberation Sans", sans-serif' fill="#3a3a3a">PT3/8</text>
<text x="107.25" y="421.2" font-size="14" text-anchor="middle" font-family='"Liberation Sans", sans-serif' fill="#3a3a3a">GR300-15</text>
<text x="200.85" y="421.2" font-size="14" text-anchor="middle" font-family='"Liberation Sans", sans-serif' fill="#3a3a3a">60</text>
<text x="253.2" y="421.2" font-size="14" text-anchor="middle" font-family='"Liberation Sans", sans-serif' fill="#3a3a3a">53</text>
<text x="307.8" y="421.2" font-size="14" text-anchor="middle" font-family='"Liberation Sans", sans-serif' fill="#3a3a3a">38</text>
<text x="360.9" y="421.2" font-size="14" text-anchor="middle" font-family='"Liberation Sans", sans-serif' fill="#3a3a3a">72</text>
<text x="414" y="421.2" font-size="14" text-anchor="middle" font-family='"Liberation Sans", sans-serif' fill="#3a3a3a">41</text>
<text x="469.25" y="421.2" font-size="14" text-anchor="middle" font-family='"Liberation Sans", sans-serif' fill="#3a3a3a">31</text>
<text x="532.8" y="421.2" font-size="14" text-anchor="middle" font-family='"Liberation Sans", sans-serif' fill="#3a3a3a">112.5</text>
<text x="617.25" y="421.2" font-size="14" text-anchor="middle" font-family='"Liberation Sans", sans-serif' fill="#3a3a3a">M40×1.5</text>
<text x="693.6" y="421.2" font-size="14" text-anchor="middle" font-family='"Liberation Sans", sans-serif' fill="#3a3a3a">6.5</text>
<text x="748.5" y="421.2" font-size="14" text-anchor="middle" font-family='"Liberation Sans", sans-serif' fill="#3a3a3a">40</text>
<text x="802.5" y="421.2" font-size="14" text-anchor="middle" font-family='"Liberation Sans", sans-serif' fill="#3a3a3a">8</text>
<text x="857.05" y="421.2" font-size="14" text-anchor="middle" font-family='"Liberation Sans", sans-serif' fill="#3a3a3a">46</text>
<text x="921.85" y="421.2" font-size="14" text-anchor="middle" font-family='"Liberation Sans", sans-serif' fill="#3a3a3a">PT1/2</text>
<text x="107.25" y="439.1" font-size="14" text-anchor="middle" font-family='"Liberation Sans", sans-serif' fill="#3a3a3a">GR400-10</text>
<text x="200.85" y="439.1" font-size="14" text-anchor="middle" font-family='"Liberation Sans", sans-serif' fill="#3a3a3a">80</text>
<text x="253.2" y="439.1" font-size="14" text-anchor="middle" font-family='"Liberation Sans", sans-serif' fill="#3a3a3a">72</text>
<text x="307.8" y="439.1" font-size="14" text-anchor="middle" font-family='"Liberation Sans", sans-serif' fill="#3a3a3a">52</text>
<text x="360.9" y="439.1" font-size="14" text-anchor="middle" font-family='"Liberation Sans", sans-serif' fill="#3a3a3a">90</text>
<text x="414" y="439.1" font-size="14" text-anchor="middle" font-family='"Liberation Sans", sans-serif' fill="#3a3a3a">50</text>
<text x="469.25" y="439.1" font-size="14" text-anchor="middle" font-family='"Liberation Sans", sans-serif' fill="#3a3a3a">40</text>
<text x="532.8" y="439.1" font-size="14" text-anchor="middle" font-family='"Liberation Sans", sans-serif' fill="#3a3a3a">140.5</text>
<text x="617.25" y="439.1" font-size="14" text-anchor="middle" font-family='"Liberation Sans", sans-serif' fill="#3a3a3a">M55×2.2</text>
<text x="693.6" y="439.1" font-size="14" text-anchor="middle" font-family='"Liberation Sans", sans-serif' fill="#3a3a3a">8.5</text>
<text x="748.5" y="439.1" font-size="14" text-anchor="middle" font-family='"Liberation Sans", sans-serif' fill="#3a3a3a">55</text>
<text x="802.5" y="439.1" font-size="14" text-anchor="middle" font-family='"Liberation Sans", sans-serif' fill="#3a3a3a">11</text>
<text x="857.05" y="439.1" font-size="14" text-anchor="middle" font-family='"Liberation Sans", sans-serif' fill="#3a3a3a">53</text>
<text x="921.85" y="439.1" font-size="14" text-anchor="middle" font-family='"Liberation Sans", sans-serif' fill="#3a3a3a">PT3/8</text>
<text x="107.25" y="457.3" font-size="14" text-anchor="middle" font-family='"Liberation Sans", sans-serif' fill="#3a3a3a">GR400-15</text>
<text x="200.85" y="457.3" font-size="14" text-anchor="middle" font-family='"Liberation Sans", sans-serif' fill="#3a3a3a">80</text>
<text x="253.2" y="457.3" font-size="14" text-anchor="middle" font-family='"Liberation Sans", sans-serif' fill="#3a3a3a">72</text>
<text x="307.8" y="457.3" font-size="14" text-anchor="middle" font-family='"Liberation Sans", sans-serif' fill="#3a3a3a">52</text>
<text x="360.9" y="457.3" font-size="14" text-anchor="middle" font-family='"Liberation Sans", sans-serif' fill="#3a3a3a">90</text>
<text x="414" y="457.3" font-size="14" text-anchor="middle" font-family='"Liberation Sans", sans-serif' fill="#3a3a3a">50</text>
<text x="469.25" y="457.3" font-size="14" text-anchor="middle" font-family='"Liberation Sans", sans-serif' fill="#3a3a3a">40</text>
<text x="532.8" y="457.3" font-size="14" text-anchor="middle" font-family='"Liberation Sans", sans-serif' fill="#3a3a3a">140.5</text>
<text x="617.25" y="457.3" font-size="14" text-anchor="middle" font-family='"Liberation Sans", sans-serif' fill="#3a3a3a">M55×2.2</text>
<text x="693.6" y="457.3" font-size="14" text-anchor="middle" font-family='"Liberation Sans", sans-serif' fill="#3a3a3a">8.5</text>
<text x="748.5" y="457.3" font-size="14" text-anchor="middle" font-family='"Liberation Sans", sans-serif' fill="#3a3a3a">55</text>
<text x="802.5" y="457.3" font-size="14" text-anchor="middle" font-family='"Liberation Sans", sans-serif' fill="#3a3a3a">11</text>
<text x="857.05" y="457.3" font-size="14" text-anchor="middle" font-family='"Liberation Sans", sans-serif' fill="#3a3a3a">53</text>
<text x="921.85" y="457.3" font-size="14" text-anchor="middle" font-family='"Liberation Sans", sans-serif' fill="#3a3a3a">PT1/2</text>
<line x1="105.8" y1="110" x2="105.8" y2="292" stroke="#555" stroke-width="0.75" stroke-dasharray="16,2.5,3,2.5"/>
<line x1="59.4" y1="230.2" x2="170" y2="230.2" stroke="#555" stroke-width="0.75" stroke-dasharray="16,2.5,3,2.5"/>
<line x1="326.2" y1="103" x2="326.2" y2="290" stroke="#555" stroke-width="0.75" stroke-dasharray="16,2.5,3,2.5"/>
<line x1="287.5" y1="230" x2="387.4" y2="230" stroke="#555" stroke-width="0.75" stroke-dasharray="16,2.5,3,2.5"/>
<line x1="620.8" y1="86" x2="620.8" y2="305" stroke="#555" stroke-width="0.75" stroke-dasharray="16,2.5,3,2.5"/>
<line x1="566" y1="235" x2="690" y2="235" stroke="#555" stroke-width="0.75" stroke-dasharray="16,2.5,3,2.5"/>
<line x1="897" y1="76" x2="897" y2="300" stroke="#555" stroke-width="0.75" stroke-dasharray="16,2.5,3,2.5"/>
<line x1="843.7" y1="234.7" x2="950" y2="234.7" stroke="#555" stroke-width="0.75" stroke-dasharray="16,2.5,3,2.5"/>
<line x1="342.5" y1="592" x2="342.5" y2="805" stroke="#555" stroke-width="0.75" stroke-dasharray="16,2.5,3,2.5"/>
<line x1="307.3" y1="700" x2="307.3" y2="713" stroke="#555" stroke-width="0.75" stroke-dasharray="3,2"/>
<line x1="377.5" y1="700" x2="377.5" y2="713" stroke="#555" stroke-width="0.75" stroke-dasharray="3,2"/>
<line x1="288" y1="743.1" x2="413.4" y2="743.1" stroke="#555" stroke-width="0.75" stroke-dasharray="16,2.5,3,2.5"/>
<line x1="619.2" y1="580" x2="619.2" y2="805" stroke="#555" stroke-width="0.75" stroke-dasharray="16,2.5,3,2.5"/>
<line x1="585.5" y1="700" x2="585.5" y2="712" stroke="#555" stroke-width="0.75" stroke-dasharray="3,2"/>
<line x1="651.5" y1="700" x2="651.5" y2="712" stroke="#555" stroke-width="0.75" stroke-dasharray="3,2"/>
<line x1="567" y1="743.3" x2="670.5" y2="743.3" stroke="#555" stroke-width="0.75" stroke-dasharray="16,2.5,3,2.5"/>
</svg></body></html>
